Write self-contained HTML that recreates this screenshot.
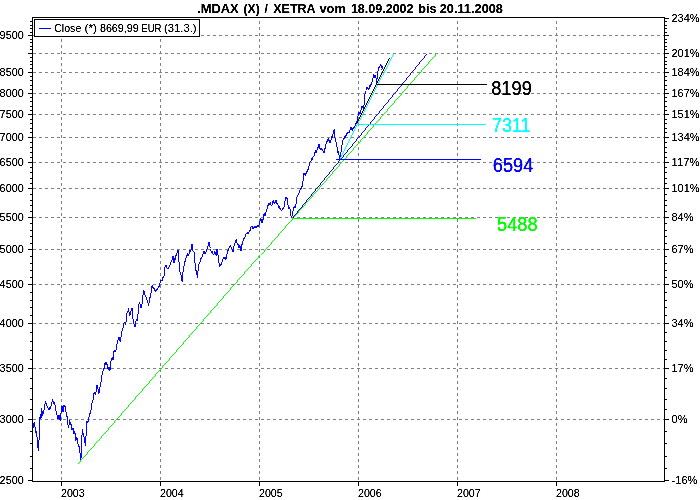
<!DOCTYPE html>
<html><head><meta charset="utf-8"><title>.MDAX (X) / XETRA</title>
<style>
html,body{margin:0;padding:0;background:#ffffff;}
body{width:700px;height:500px;overflow:hidden;position:relative;font-family:"Liberation Sans",sans-serif;}
</style></head><body>
<svg width="700" height="500" viewBox="0 0 700 500" style="position:absolute;left:0;top:0;opacity:0.999;will-change:transform">
<defs><filter id="crisp" x="0" y="0" width="100%" height="100%" filterUnits="userSpaceOnUse" primitiveUnits="userSpaceOnUse" color-interpolation-filters="sRGB"><feComponentTransfer><feFuncA type="table" tableValues="0 0.12 0.8 1 1"/></feComponentTransfer></filter></defs>
<rect x="0" y="0" width="700" height="500" fill="#ffffff"/>
<g stroke="#808080" stroke-width="1" stroke-dasharray="3 3" shape-rendering="crispEdges" fill="none">
<line x1="33" y1="35.5" x2="664" y2="35.5"/>
<line x1="33" y1="53.5" x2="664" y2="53.5"/>
<line x1="33" y1="72.5" x2="664" y2="72.5"/>
<line x1="33" y1="93.5" x2="664" y2="93.5"/>
<line x1="33" y1="114.5" x2="664" y2="114.5"/>
<line x1="33" y1="137.5" x2="664" y2="137.5"/>
<line x1="33" y1="162.5" x2="664" y2="162.5"/>
<line x1="33" y1="188.5" x2="664" y2="188.5"/>
<line x1="33" y1="217.5" x2="664" y2="217.5"/>
<line x1="33" y1="249.5" x2="664" y2="249.5"/>
<line x1="33" y1="284.5" x2="664" y2="284.5"/>
<line x1="33" y1="323.5" x2="664" y2="323.5"/>
<line x1="33" y1="368.5" x2="664" y2="368.5"/>
<line x1="33" y1="419.5" x2="664" y2="419.5"/>
<line x1="61.5" y1="18" x2="61.5" y2="481" stroke-dashoffset="3"/>
<line x1="160.5" y1="18" x2="160.5" y2="481" stroke-dashoffset="3"/>
<line x1="259.5" y1="18" x2="259.5" y2="481" stroke-dashoffset="3"/>
<line x1="358.5" y1="18" x2="358.5" y2="481" stroke-dashoffset="3"/>
<line x1="457.5" y1="18" x2="457.5" y2="481" stroke-dashoffset="3"/>
<line x1="556.5" y1="18" x2="556.5" y2="481" stroke-dashoffset="3"/>
</g>
<g stroke="#0000ff" stroke-width="0.99" shape-rendering="crispEdges" fill="none">
<line x1="32.4" y1="417.2" x2="32.7" y2="421.3"/>
<line x1="32.7" y1="421.3" x2="33.0" y2="423.5"/>
<line x1="33.0" y1="423.5" x2="33.2" y2="423.6"/>
<line x1="33.2" y1="423.6" x2="33.5" y2="427.6"/>
<line x1="33.5" y1="427.6" x2="33.8" y2="425.4"/>
<line x1="33.8" y1="425.4" x2="34.0" y2="423.3"/>
<line x1="34.0" y1="423.3" x2="34.2" y2="423.1"/>
<line x1="34.2" y1="423.1" x2="34.5" y2="422.0"/>
<line x1="34.5" y1="422.0" x2="34.8" y2="425.6"/>
<line x1="34.8" y1="425.6" x2="35.0" y2="427.2"/>
<line x1="35.0" y1="427.2" x2="35.3" y2="430.8"/>
<line x1="35.3" y1="430.8" x2="35.6" y2="433.2"/>
<line x1="35.6" y1="433.2" x2="35.9" y2="431.1"/>
<line x1="35.9" y1="431.1" x2="36.1" y2="431.1"/>
<line x1="36.1" y1="431.1" x2="36.4" y2="431.6"/>
<line x1="36.4" y1="431.6" x2="36.7" y2="434.1"/>
<line x1="36.7" y1="434.1" x2="36.9" y2="435.5"/>
<line x1="36.9" y1="435.5" x2="37.2" y2="438.0"/>
<line x1="37.2" y1="438.0" x2="37.5" y2="440.4"/>
<line x1="37.5" y1="440.4" x2="37.8" y2="443.2"/>
<line x1="37.8" y1="443.2" x2="38.0" y2="448.4"/>
<line x1="38.0" y1="448.4" x2="38.3" y2="450.5"/>
<line x1="38.3" y1="450.5" x2="38.6" y2="446.4"/>
<line x1="38.6" y1="446.4" x2="38.8" y2="442.4"/>
<line x1="38.8" y1="442.4" x2="39.1" y2="439.6"/>
<line x1="39.1" y1="439.6" x2="39.6" y2="422.0"/>
<line x1="39.6" y1="422.0" x2="39.9" y2="418.3"/>
<line x1="39.9" y1="418.3" x2="40.1" y2="415.7"/>
<line x1="40.1" y1="415.7" x2="40.4" y2="414.0"/>
<line x1="40.4" y1="414.0" x2="40.9" y2="418.8"/>
<line x1="40.9" y1="418.8" x2="41.1" y2="416.6"/>
<line x1="41.1" y1="416.6" x2="41.3" y2="412.9"/>
<line x1="41.3" y1="412.9" x2="41.5" y2="408.4"/>
<line x1="41.5" y1="408.4" x2="41.7" y2="411.6"/>
<line x1="41.7" y1="411.6" x2="42.0" y2="411.9"/>
<line x1="42.0" y1="411.9" x2="42.2" y2="415.6"/>
<line x1="42.2" y1="415.6" x2="42.4" y2="413.6"/>
<line x1="42.4" y1="413.6" x2="42.6" y2="413.4"/>
<line x1="42.6" y1="413.4" x2="42.8" y2="410.8"/>
<line x1="42.8" y1="410.8" x2="43.1" y2="412.8"/>
<line x1="43.1" y1="412.8" x2="43.3" y2="413.5"/>
<line x1="43.3" y1="413.5" x2="43.6" y2="413.2"/>
<line x1="43.6" y1="413.2" x2="43.9" y2="410.3"/>
<line x1="43.9" y1="410.3" x2="44.1" y2="408.9"/>
<line x1="44.1" y1="408.9" x2="44.4" y2="406.0"/>
<line x1="44.4" y1="406.0" x2="44.7" y2="405.3"/>
<line x1="44.7" y1="405.3" x2="45.0" y2="404.4"/>
<line x1="45.0" y1="404.4" x2="45.2" y2="401.1"/>
<line x1="45.2" y1="401.1" x2="45.5" y2="401.2"/>
<line x1="45.5" y1="401.2" x2="45.8" y2="402.7"/>
<line x1="45.8" y1="402.7" x2="46.0" y2="403.9"/>
<line x1="46.0" y1="403.9" x2="46.3" y2="404.0"/>
<line x1="46.3" y1="404.0" x2="46.5" y2="402.9"/>
<line x1="46.5" y1="402.9" x2="46.8" y2="405.2"/>
<line x1="46.8" y1="405.2" x2="47.1" y2="406.9"/>
<line x1="47.1" y1="406.9" x2="47.3" y2="405.8"/>
<line x1="47.3" y1="405.8" x2="47.6" y2="407.8"/>
<line x1="47.6" y1="407.8" x2="47.8" y2="407.8"/>
<line x1="47.8" y1="407.8" x2="48.1" y2="407.6"/>
<line x1="48.1" y1="407.6" x2="48.4" y2="409.5"/>
<line x1="48.4" y1="409.5" x2="48.7" y2="408.9"/>
<line x1="48.7" y1="408.9" x2="48.9" y2="409.8"/>
<line x1="48.9" y1="409.8" x2="49.2" y2="408.6"/>
<line x1="49.2" y1="408.6" x2="49.5" y2="410.0"/>
<line x1="49.5" y1="410.0" x2="49.8" y2="408.0"/>
<line x1="49.8" y1="408.0" x2="50.0" y2="407.4"/>
<line x1="50.0" y1="407.4" x2="50.3" y2="408.8"/>
<line x1="50.3" y1="408.8" x2="50.6" y2="407.7"/>
<line x1="50.6" y1="407.7" x2="50.8" y2="407.5"/>
<line x1="50.8" y1="407.5" x2="51.1" y2="406.0"/>
<line x1="51.1" y1="406.0" x2="51.4" y2="406.1"/>
<line x1="51.4" y1="406.1" x2="51.6" y2="404.7"/>
<line x1="51.6" y1="404.7" x2="51.9" y2="403.2"/>
<line x1="51.9" y1="403.2" x2="52.1" y2="401.8"/>
<line x1="52.1" y1="401.8" x2="52.4" y2="399.3"/>
<line x1="52.4" y1="399.3" x2="52.7" y2="401.9"/>
<line x1="52.7" y1="401.9" x2="52.9" y2="400.9"/>
<line x1="52.9" y1="400.9" x2="53.2" y2="401.8"/>
<line x1="53.2" y1="401.8" x2="53.4" y2="403.1"/>
<line x1="53.4" y1="403.1" x2="53.7" y2="404.4"/>
<line x1="53.7" y1="404.4" x2="54.0" y2="403.2"/>
<line x1="54.0" y1="403.2" x2="54.2" y2="402.7"/>
<line x1="54.2" y1="402.7" x2="54.5" y2="403.7"/>
<line x1="54.5" y1="403.7" x2="54.8" y2="402.0"/>
<line x1="54.8" y1="402.0" x2="55.1" y2="405.7"/>
<line x1="55.1" y1="405.7" x2="55.3" y2="405.4"/>
<line x1="55.3" y1="405.4" x2="55.6" y2="408.4"/>
<line x1="55.6" y1="408.4" x2="55.9" y2="410.3"/>
<line x1="55.9" y1="410.3" x2="56.1" y2="411.1"/>
<line x1="56.1" y1="411.1" x2="56.4" y2="412.1"/>
<line x1="56.4" y1="412.1" x2="56.6" y2="411.3"/>
<line x1="56.6" y1="411.3" x2="56.9" y2="414.0"/>
<line x1="56.9" y1="414.0" x2="57.2" y2="415.7"/>
<line x1="57.2" y1="415.7" x2="57.5" y2="417.5"/>
<line x1="57.5" y1="417.5" x2="57.7" y2="417.3"/>
<line x1="57.7" y1="417.3" x2="58.0" y2="418.8"/>
<line x1="58.0" y1="418.8" x2="58.3" y2="416.7"/>
<line x1="58.3" y1="416.7" x2="58.5" y2="417.8"/>
<line x1="58.5" y1="417.8" x2="58.8" y2="415.6"/>
<line x1="58.8" y1="415.6" x2="59.1" y2="415.1"/>
<line x1="59.1" y1="415.1" x2="59.3" y2="418.0"/>
<line x1="59.3" y1="418.0" x2="59.6" y2="419.9"/>
<line x1="59.6" y1="419.9" x2="59.9" y2="420.2"/>
<line x1="59.9" y1="420.2" x2="60.1" y2="418.9"/>
<line x1="60.1" y1="418.9" x2="60.4" y2="421.2"/>
<line x1="60.4" y1="421.2" x2="60.7" y2="418.7"/>
<line x1="60.7" y1="418.7" x2="60.9" y2="414.7"/>
<line x1="60.9" y1="414.7" x2="61.2" y2="410.8"/>
<line x1="61.2" y1="410.8" x2="61.5" y2="407.8"/>
<line x1="61.5" y1="407.8" x2="61.7" y2="408.3"/>
<line x1="61.7" y1="408.3" x2="62.0" y2="405.7"/>
<line x1="62.0" y1="405.7" x2="62.3" y2="406.4"/>
<line x1="62.3" y1="406.4" x2="62.5" y2="407.5"/>
<line x1="62.5" y1="407.5" x2="62.8" y2="411.2"/>
<line x1="62.8" y1="411.2" x2="63.1" y2="412.4"/>
<line x1="63.1" y1="412.4" x2="63.4" y2="409.3"/>
<line x1="63.4" y1="409.3" x2="63.6" y2="410.4"/>
<line x1="63.6" y1="410.4" x2="63.8" y2="405.8"/>
<line x1="63.8" y1="405.8" x2="64.1" y2="405.2"/>
<line x1="64.1" y1="405.2" x2="64.4" y2="406.6"/>
<line x1="64.4" y1="406.6" x2="64.7" y2="405.2"/>
<line x1="64.7" y1="405.2" x2="64.9" y2="405.4"/>
<line x1="64.9" y1="405.4" x2="65.2" y2="406.8"/>
<line x1="65.2" y1="406.8" x2="65.5" y2="409.4"/>
<line x1="65.5" y1="409.4" x2="65.7" y2="408.3"/>
<line x1="65.7" y1="408.3" x2="66.0" y2="412.4"/>
<line x1="66.0" y1="412.4" x2="66.2" y2="412.0"/>
<line x1="66.2" y1="412.0" x2="66.5" y2="414.0"/>
<line x1="66.5" y1="414.0" x2="66.8" y2="416.8"/>
<line x1="66.8" y1="416.8" x2="67.0" y2="416.4"/>
<line x1="67.0" y1="416.4" x2="67.3" y2="420.9"/>
<line x1="67.3" y1="420.9" x2="67.6" y2="422.0"/>
<line x1="67.6" y1="422.0" x2="67.9" y2="422.9"/>
<line x1="67.9" y1="422.9" x2="68.1" y2="427.1"/>
<line x1="68.1" y1="427.1" x2="68.4" y2="428.4"/>
<line x1="68.4" y1="428.4" x2="68.7" y2="427.9"/>
<line x1="68.7" y1="427.9" x2="69.0" y2="424.8"/>
<line x1="69.0" y1="424.8" x2="69.2" y2="421.8"/>
<line x1="69.2" y1="421.8" x2="69.5" y2="420.4"/>
<line x1="69.5" y1="420.4" x2="69.8" y2="420.5"/>
<line x1="69.8" y1="420.5" x2="70.0" y2="423.1"/>
<line x1="70.0" y1="423.1" x2="70.3" y2="421.9"/>
<line x1="70.3" y1="421.9" x2="70.5" y2="424.9"/>
<line x1="70.5" y1="424.9" x2="70.8" y2="424.4"/>
<line x1="70.8" y1="424.4" x2="71.1" y2="424.4"/>
<line x1="71.1" y1="424.4" x2="71.3" y2="425.7"/>
<line x1="71.3" y1="425.7" x2="71.6" y2="427.7"/>
<line x1="71.6" y1="427.7" x2="71.9" y2="430.0"/>
<line x1="71.9" y1="430.0" x2="72.2" y2="428.5"/>
<line x1="72.2" y1="428.5" x2="72.4" y2="429.2"/>
<line x1="72.4" y1="429.2" x2="72.7" y2="429.1"/>
<line x1="72.7" y1="429.1" x2="72.9" y2="427.6"/>
<line x1="72.9" y1="427.6" x2="73.2" y2="428.0"/>
<line x1="73.2" y1="428.0" x2="73.5" y2="429.2"/>
<line x1="73.5" y1="429.2" x2="73.7" y2="431.9"/>
<line x1="73.7" y1="431.9" x2="74.0" y2="434.0"/>
<line x1="74.0" y1="434.0" x2="74.3" y2="434.3"/>
<line x1="74.3" y1="434.3" x2="74.5" y2="430.8"/>
<line x1="74.5" y1="430.8" x2="74.8" y2="430.8"/>
<line x1="74.8" y1="430.8" x2="75.1" y2="434.6"/>
<line x1="75.1" y1="434.6" x2="75.3" y2="436.5"/>
<line x1="75.3" y1="436.5" x2="75.6" y2="438.3"/>
<line x1="75.6" y1="438.3" x2="75.9" y2="441.2"/>
<line x1="75.9" y1="441.2" x2="76.2" y2="439.2"/>
<line x1="76.2" y1="439.2" x2="76.4" y2="438.3"/>
<line x1="76.4" y1="438.3" x2="76.7" y2="436.8"/>
<line x1="76.7" y1="436.8" x2="76.9" y2="437.2"/>
<line x1="76.9" y1="437.2" x2="77.2" y2="438.7"/>
<line x1="77.2" y1="438.7" x2="77.5" y2="440.1"/>
<line x1="77.5" y1="440.1" x2="77.7" y2="441.3"/>
<line x1="77.7" y1="441.3" x2="78.0" y2="444.4"/>
<line x1="78.0" y1="444.4" x2="78.3" y2="445.6"/>
<line x1="78.3" y1="445.6" x2="78.5" y2="447.0"/>
<line x1="78.5" y1="447.0" x2="78.8" y2="444.7"/>
<line x1="78.8" y1="444.7" x2="79.1" y2="446.8"/>
<line x1="79.1" y1="446.8" x2="79.3" y2="450.1"/>
<line x1="79.3" y1="450.1" x2="79.6" y2="451.8"/>
<line x1="79.6" y1="451.8" x2="79.8" y2="451.2"/>
<line x1="79.8" y1="451.2" x2="80.1" y2="454.0"/>
<line x1="80.1" y1="454.0" x2="80.4" y2="455.2"/>
<line x1="80.4" y1="455.2" x2="80.6" y2="458.2"/>
<line x1="80.6" y1="458.2" x2="80.9" y2="462.0"/>
<line x1="80.9" y1="462.0" x2="81.1" y2="453.5"/>
<line x1="81.1" y1="453.5" x2="81.3" y2="447.1"/>
<line x1="81.3" y1="447.1" x2="81.5" y2="438.0"/>
<line x1="81.5" y1="438.0" x2="81.8" y2="434.8"/>
<line x1="81.8" y1="434.8" x2="82.0" y2="434.8"/>
<line x1="82.0" y1="434.8" x2="82.2" y2="432.7"/>
<line x1="82.2" y1="432.7" x2="82.5" y2="429.2"/>
<line x1="82.5" y1="429.2" x2="82.8" y2="429.8"/>
<line x1="82.8" y1="429.8" x2="83.0" y2="432.6"/>
<line x1="83.0" y1="432.6" x2="83.3" y2="435.6"/>
<line x1="83.3" y1="435.6" x2="83.6" y2="437.2"/>
<line x1="83.6" y1="437.2" x2="83.9" y2="437.0"/>
<line x1="83.9" y1="437.0" x2="84.1" y2="437.5"/>
<line x1="84.1" y1="437.5" x2="84.4" y2="439.6"/>
<line x1="84.4" y1="439.6" x2="84.7" y2="440.4"/>
<line x1="84.7" y1="440.4" x2="84.9" y2="441.7"/>
<line x1="84.9" y1="441.7" x2="85.2" y2="445.6"/>
<line x1="85.2" y1="445.6" x2="85.4" y2="446.3"/>
<line x1="85.4" y1="446.3" x2="85.6" y2="444.0"/>
<line x1="85.6" y1="444.0" x2="85.8" y2="438.5"/>
<line x1="85.8" y1="438.5" x2="86.0" y2="436.4"/>
<line x1="86.0" y1="436.4" x2="86.3" y2="432.8"/>
<line x1="86.3" y1="432.8" x2="86.5" y2="424.9"/>
<line x1="86.5" y1="424.9" x2="86.8" y2="421.2"/>
<line x1="86.8" y1="421.2" x2="87.1" y2="420.6"/>
<line x1="87.1" y1="420.6" x2="87.3" y2="422.5"/>
<line x1="87.3" y1="422.5" x2="87.6" y2="420.6"/>
<line x1="87.6" y1="420.6" x2="87.9" y2="422.0"/>
<line x1="87.9" y1="422.0" x2="88.2" y2="421.2"/>
<line x1="88.2" y1="421.2" x2="88.4" y2="420.9"/>
<line x1="88.4" y1="420.9" x2="88.7" y2="416.9"/>
<line x1="88.7" y1="416.9" x2="88.9" y2="417.2"/>
<line x1="88.9" y1="417.2" x2="89.2" y2="416.9"/>
<line x1="89.2" y1="416.9" x2="89.4" y2="414.0"/>
<line x1="89.4" y1="414.0" x2="89.7" y2="413.5"/>
<line x1="89.7" y1="413.5" x2="90.0" y2="413.2"/>
<line x1="90.0" y1="413.2" x2="90.2" y2="413.7"/>
<line x1="90.2" y1="413.7" x2="90.5" y2="412.4"/>
<line x1="90.5" y1="412.4" x2="90.8" y2="410.1"/>
<line x1="90.8" y1="410.1" x2="91.0" y2="410.4"/>
<line x1="91.0" y1="410.4" x2="91.3" y2="407.7"/>
<line x1="91.3" y1="407.7" x2="91.6" y2="405.2"/>
<line x1="91.6" y1="405.2" x2="91.9" y2="403.4"/>
<line x1="91.9" y1="403.4" x2="92.2" y2="402.0"/>
<line x1="92.2" y1="402.0" x2="92.4" y2="401.5"/>
<line x1="92.4" y1="401.5" x2="92.7" y2="401.2"/>
<line x1="92.7" y1="401.2" x2="93.0" y2="400.4"/>
<line x1="93.0" y1="400.4" x2="93.2" y2="397.0"/>
<line x1="93.2" y1="397.0" x2="93.5" y2="397.1"/>
<line x1="93.5" y1="397.1" x2="93.7" y2="394.0"/>
<line x1="93.7" y1="394.0" x2="94.0" y2="392.8"/>
<line x1="94.0" y1="392.8" x2="94.3" y2="391.6"/>
<line x1="94.3" y1="391.6" x2="94.6" y2="393.1"/>
<line x1="94.6" y1="393.1" x2="94.8" y2="394.2"/>
<line x1="94.8" y1="394.2" x2="95.1" y2="393.6"/>
<line x1="95.1" y1="393.6" x2="95.4" y2="394.6"/>
<line x1="95.4" y1="394.6" x2="95.7" y2="391.6"/>
<line x1="95.7" y1="391.6" x2="96.0" y2="392.1"/>
<line x1="96.0" y1="392.1" x2="96.3" y2="390.9"/>
<line x1="96.3" y1="390.9" x2="96.6" y2="387.3"/>
<line x1="96.6" y1="387.3" x2="96.9" y2="385.5"/>
<line x1="96.9" y1="385.5" x2="97.2" y2="384.7"/>
<line x1="97.2" y1="384.7" x2="97.4" y2="385.2"/>
<line x1="97.4" y1="385.2" x2="97.7" y2="385.8"/>
<line x1="97.7" y1="385.8" x2="97.9" y2="388.5"/>
<line x1="97.9" y1="388.5" x2="98.1" y2="389.2"/>
<line x1="98.1" y1="389.2" x2="98.3" y2="389.7"/>
<line x1="98.3" y1="389.7" x2="98.5" y2="390.1"/>
<line x1="98.5" y1="390.1" x2="98.8" y2="393.5"/>
<line x1="98.8" y1="393.5" x2="99.0" y2="392.8"/>
<line x1="99.0" y1="392.8" x2="99.3" y2="392.9"/>
<line x1="99.3" y1="392.9" x2="99.5" y2="391.0"/>
<line x1="99.5" y1="391.0" x2="99.8" y2="387.5"/>
<line x1="99.8" y1="387.5" x2="100.0" y2="385.5"/>
<line x1="100.0" y1="385.5" x2="100.3" y2="385.6"/>
<line x1="100.3" y1="385.6" x2="100.6" y2="383.3"/>
<line x1="100.6" y1="383.3" x2="100.8" y2="381.8"/>
<line x1="100.8" y1="381.8" x2="101.1" y2="381.9"/>
<line x1="101.1" y1="381.9" x2="101.3" y2="378.4"/>
<line x1="101.3" y1="378.4" x2="101.6" y2="377.5"/>
<line x1="101.6" y1="377.5" x2="101.9" y2="375.6"/>
<line x1="101.9" y1="375.6" x2="102.2" y2="373.4"/>
<line x1="102.2" y1="373.4" x2="102.4" y2="373.4"/>
<line x1="102.4" y1="373.4" x2="102.7" y2="371.5"/>
<line x1="102.7" y1="371.5" x2="103.0" y2="371.2"/>
<line x1="103.0" y1="371.2" x2="103.3" y2="368.6"/>
<line x1="103.3" y1="368.6" x2="103.6" y2="367.9"/>
<line x1="103.6" y1="367.9" x2="103.8" y2="369.1"/>
<line x1="103.8" y1="369.1" x2="104.1" y2="368.4"/>
<line x1="104.1" y1="368.4" x2="104.4" y2="365.8"/>
<line x1="104.4" y1="365.8" x2="104.7" y2="366.3"/>
<line x1="104.7" y1="366.3" x2="104.9" y2="363.6"/>
<line x1="104.9" y1="363.6" x2="105.2" y2="362.8"/>
<line x1="105.2" y1="362.8" x2="105.4" y2="364.5"/>
<line x1="105.4" y1="364.5" x2="105.7" y2="362.2"/>
<line x1="105.7" y1="362.2" x2="106.0" y2="362.2"/>
<line x1="106.0" y1="362.2" x2="106.2" y2="363.8"/>
<line x1="106.2" y1="363.8" x2="106.5" y2="362.9"/>
<line x1="106.5" y1="362.9" x2="106.7" y2="365.1"/>
<line x1="106.7" y1="365.1" x2="107.0" y2="364.0"/>
<line x1="107.0" y1="364.0" x2="107.2" y2="366.4"/>
<line x1="107.2" y1="366.4" x2="107.5" y2="367.1"/>
<line x1="107.5" y1="367.1" x2="107.8" y2="367.5"/>
<line x1="107.8" y1="367.5" x2="108.0" y2="369.4"/>
<line x1="108.0" y1="369.4" x2="108.2" y2="369.0"/>
<line x1="108.2" y1="369.0" x2="108.5" y2="369.6"/>
<line x1="108.5" y1="369.6" x2="108.7" y2="368.0"/>
<line x1="108.7" y1="368.0" x2="108.9" y2="366.7"/>
<line x1="108.9" y1="366.7" x2="109.2" y2="368.0"/>
<line x1="109.2" y1="368.0" x2="109.4" y2="367.8"/>
<line x1="109.4" y1="367.8" x2="109.7" y2="369.3"/>
<line x1="109.7" y1="369.3" x2="109.9" y2="370.5"/>
<line x1="109.9" y1="370.5" x2="110.2" y2="370.3"/>
<line x1="110.2" y1="370.3" x2="110.4" y2="367.2"/>
<line x1="110.4" y1="367.2" x2="110.7" y2="364.9"/>
<line x1="110.7" y1="364.9" x2="110.9" y2="362.4"/>
<line x1="110.9" y1="362.4" x2="111.1" y2="360.4"/>
<line x1="111.1" y1="360.4" x2="111.4" y2="359.0"/>
<line x1="111.4" y1="359.0" x2="111.6" y2="360.0"/>
<line x1="111.6" y1="360.0" x2="111.9" y2="358.4"/>
<line x1="111.9" y1="358.4" x2="112.1" y2="357.1"/>
<line x1="112.1" y1="357.1" x2="112.4" y2="357.7"/>
<line x1="112.4" y1="357.7" x2="112.6" y2="359.7"/>
<line x1="112.6" y1="359.7" x2="112.8" y2="359.5"/>
<line x1="112.8" y1="359.5" x2="113.1" y2="359.4"/>
<line x1="113.1" y1="359.4" x2="113.3" y2="360.4"/>
<line x1="113.3" y1="360.4" x2="113.8" y2="350.5"/>
<line x1="113.8" y1="350.5" x2="114.1" y2="352.1"/>
<line x1="114.1" y1="352.1" x2="114.4" y2="349.7"/>
<line x1="114.4" y1="349.7" x2="114.6" y2="350.2"/>
<line x1="114.6" y1="350.2" x2="114.9" y2="351.5"/>
<line x1="114.9" y1="351.5" x2="115.2" y2="352.3"/>
<line x1="115.2" y1="352.3" x2="115.5" y2="350.7"/>
<line x1="115.5" y1="350.7" x2="115.7" y2="351.7"/>
<line x1="115.7" y1="351.7" x2="116.0" y2="350.4"/>
<line x1="116.0" y1="350.4" x2="116.2" y2="346.9"/>
<line x1="116.2" y1="346.9" x2="116.5" y2="346.9"/>
<line x1="116.5" y1="346.9" x2="116.8" y2="345.1"/>
<line x1="116.8" y1="345.1" x2="117.0" y2="344.2"/>
<line x1="117.0" y1="344.2" x2="117.3" y2="342.9"/>
<line x1="117.3" y1="342.9" x2="117.5" y2="342.1"/>
<line x1="117.5" y1="342.1" x2="117.8" y2="342.4"/>
<line x1="117.8" y1="342.4" x2="118.0" y2="339.8"/>
<line x1="118.0" y1="339.8" x2="118.3" y2="340.3"/>
<line x1="118.3" y1="340.3" x2="118.5" y2="337.0"/>
<line x1="118.5" y1="337.0" x2="118.8" y2="337.0"/>
<line x1="118.8" y1="337.0" x2="119.1" y2="336.7"/>
<line x1="119.1" y1="336.7" x2="119.3" y2="338.2"/>
<line x1="119.3" y1="338.2" x2="119.6" y2="340.6"/>
<line x1="119.6" y1="340.6" x2="119.8" y2="341.0"/>
<line x1="119.8" y1="341.0" x2="120.1" y2="341.5"/>
<line x1="120.1" y1="341.5" x2="120.3" y2="341.7"/>
<line x1="120.3" y1="341.7" x2="120.5" y2="338.8"/>
<line x1="120.5" y1="338.8" x2="120.8" y2="337.4"/>
<line x1="120.8" y1="337.4" x2="121.0" y2="337.0"/>
<line x1="121.0" y1="337.0" x2="121.3" y2="336.8"/>
<line x1="121.3" y1="336.8" x2="121.6" y2="334.2"/>
<line x1="121.6" y1="334.2" x2="121.8" y2="332.3"/>
<line x1="121.8" y1="332.3" x2="122.1" y2="330.8"/>
<line x1="122.1" y1="330.8" x2="122.4" y2="330.7"/>
<line x1="122.4" y1="330.7" x2="122.7" y2="328.2"/>
<line x1="122.7" y1="328.2" x2="123.0" y2="328.0"/>
<line x1="123.0" y1="328.0" x2="123.3" y2="327.3"/>
<line x1="123.3" y1="327.3" x2="123.6" y2="326.8"/>
<line x1="123.6" y1="326.8" x2="123.9" y2="323.9"/>
<line x1="123.9" y1="323.9" x2="124.2" y2="322.2"/>
<line x1="124.2" y1="322.2" x2="124.5" y2="322.8"/>
<line x1="124.5" y1="322.8" x2="124.8" y2="322.3"/>
<line x1="124.8" y1="322.3" x2="125.0" y2="321.8"/>
<line x1="125.0" y1="321.8" x2="125.3" y2="324.9"/>
<line x1="125.3" y1="324.9" x2="125.5" y2="324.1"/>
<line x1="125.5" y1="324.1" x2="125.8" y2="323.7"/>
<line x1="125.8" y1="323.7" x2="126.1" y2="321.0"/>
<line x1="126.1" y1="321.0" x2="126.4" y2="318.5"/>
<line x1="126.4" y1="318.5" x2="126.6" y2="318.2"/>
<line x1="126.6" y1="318.2" x2="126.9" y2="313.3"/>
<line x1="126.9" y1="313.3" x2="127.2" y2="312.0"/>
<line x1="127.2" y1="312.0" x2="127.5" y2="312.7"/>
<line x1="127.5" y1="312.7" x2="127.7" y2="311.2"/>
<line x1="127.7" y1="311.2" x2="128.0" y2="310.7"/>
<line x1="128.0" y1="310.7" x2="128.2" y2="308.8"/>
<line x1="128.2" y1="308.8" x2="128.5" y2="308.4"/>
<line x1="128.5" y1="308.4" x2="128.8" y2="311.0"/>
<line x1="128.8" y1="311.0" x2="129.1" y2="312.0"/>
<line x1="129.1" y1="312.0" x2="129.3" y2="311.9"/>
<line x1="129.3" y1="311.9" x2="129.6" y2="314.9"/>
<line x1="129.6" y1="314.9" x2="129.9" y2="315.6"/>
<line x1="129.9" y1="315.6" x2="130.1" y2="315.0"/>
<line x1="130.1" y1="315.0" x2="130.4" y2="315.2"/>
<line x1="130.4" y1="315.2" x2="130.6" y2="311.4"/>
<line x1="130.6" y1="311.4" x2="130.8" y2="312.0"/>
<line x1="130.8" y1="312.0" x2="131.1" y2="309.9"/>
<line x1="131.1" y1="309.9" x2="131.4" y2="310.8"/>
<line x1="131.4" y1="310.8" x2="131.6" y2="308.5"/>
<line x1="131.6" y1="308.5" x2="131.9" y2="307.6"/>
<line x1="131.9" y1="307.6" x2="132.2" y2="307.5"/>
<line x1="132.2" y1="307.5" x2="132.5" y2="312.7"/>
<line x1="132.5" y1="312.7" x2="132.7" y2="314.6"/>
<line x1="132.7" y1="314.6" x2="133.0" y2="319.2"/>
<line x1="133.0" y1="319.2" x2="133.3" y2="319.2"/>
<line x1="133.3" y1="319.2" x2="133.6" y2="323.0"/>
<line x1="133.6" y1="323.0" x2="133.9" y2="322.6"/>
<line x1="133.9" y1="322.6" x2="134.2" y2="325.5"/>
<line x1="134.2" y1="325.5" x2="134.5" y2="326.5"/>
<line x1="134.5" y1="326.5" x2="134.8" y2="327.3"/>
<line x1="134.8" y1="327.3" x2="135.1" y2="327.4"/>
<line x1="135.1" y1="327.4" x2="135.4" y2="326.2"/>
<line x1="135.4" y1="326.2" x2="135.6" y2="325.0"/>
<line x1="135.6" y1="325.0" x2="135.9" y2="321.0"/>
<line x1="135.9" y1="321.0" x2="136.2" y2="321.0"/>
<line x1="136.2" y1="321.0" x2="136.5" y2="319.1"/>
<line x1="136.5" y1="319.1" x2="136.7" y2="321.2"/>
<line x1="136.7" y1="321.2" x2="137.0" y2="318.8"/>
<line x1="137.0" y1="318.8" x2="137.2" y2="320.5"/>
<line x1="137.2" y1="320.5" x2="137.5" y2="319.2"/>
<line x1="137.5" y1="319.2" x2="137.8" y2="315.5"/>
<line x1="137.8" y1="315.5" x2="138.0" y2="313.6"/>
<line x1="138.0" y1="313.6" x2="138.2" y2="310.4"/>
<line x1="138.2" y1="310.4" x2="138.5" y2="306.6"/>
<line x1="138.5" y1="306.6" x2="138.8" y2="306.5"/>
<line x1="138.8" y1="306.5" x2="139.0" y2="304.1"/>
<line x1="139.0" y1="304.1" x2="139.3" y2="304.4"/>
<line x1="139.3" y1="304.4" x2="139.5" y2="302.6"/>
<line x1="139.5" y1="302.6" x2="139.8" y2="302.1"/>
<line x1="139.8" y1="302.1" x2="140.1" y2="304.4"/>
<line x1="140.1" y1="304.4" x2="140.4" y2="306.1"/>
<line x1="140.4" y1="306.1" x2="140.6" y2="306.7"/>
<line x1="140.6" y1="306.7" x2="140.9" y2="306.5"/>
<line x1="140.9" y1="306.5" x2="141.2" y2="308.4"/>
<line x1="141.2" y1="308.4" x2="141.5" y2="305.9"/>
<line x1="141.5" y1="305.9" x2="141.7" y2="304.1"/>
<line x1="141.7" y1="304.1" x2="142.0" y2="303.6"/>
<line x1="142.0" y1="303.6" x2="142.2" y2="299.7"/>
<line x1="142.2" y1="299.7" x2="142.5" y2="299.4"/>
<line x1="142.5" y1="299.4" x2="142.8" y2="298.2"/>
<line x1="142.8" y1="298.2" x2="143.0" y2="294.7"/>
<line x1="143.0" y1="294.7" x2="143.3" y2="294.7"/>
<line x1="143.3" y1="294.7" x2="143.5" y2="292.1"/>
<line x1="143.5" y1="292.1" x2="143.8" y2="289.5"/>
<line x1="143.8" y1="289.5" x2="144.1" y2="291.0"/>
<line x1="144.1" y1="291.0" x2="144.4" y2="291.2"/>
<line x1="144.4" y1="291.2" x2="144.6" y2="291.9"/>
<line x1="144.6" y1="291.9" x2="144.9" y2="294.7"/>
<line x1="144.9" y1="294.7" x2="145.2" y2="294.9"/>
<line x1="145.2" y1="294.9" x2="145.5" y2="296.7"/>
<line x1="145.5" y1="296.7" x2="145.8" y2="295.2"/>
<line x1="145.8" y1="295.2" x2="146.0" y2="297.2"/>
<line x1="146.0" y1="297.2" x2="146.3" y2="297.9"/>
<line x1="146.3" y1="297.9" x2="146.6" y2="296.7"/>
<line x1="146.6" y1="296.7" x2="146.9" y2="298.6"/>
<line x1="146.9" y1="298.6" x2="147.2" y2="301.4"/>
<line x1="147.2" y1="301.4" x2="147.5" y2="303.0"/>
<line x1="147.5" y1="303.0" x2="147.8" y2="301.7"/>
<line x1="147.8" y1="301.7" x2="148.1" y2="304.1"/>
<line x1="148.1" y1="304.1" x2="148.4" y2="306.2"/>
<line x1="148.4" y1="306.2" x2="148.7" y2="303.3"/>
<line x1="148.7" y1="303.3" x2="148.9" y2="303.9"/>
<line x1="148.9" y1="303.9" x2="149.2" y2="301.8"/>
<line x1="149.2" y1="301.8" x2="149.4" y2="300.2"/>
<line x1="149.4" y1="300.2" x2="149.7" y2="299.4"/>
<line x1="149.7" y1="299.4" x2="150.0" y2="297.0"/>
<line x1="150.0" y1="297.0" x2="150.2" y2="298.4"/>
<line x1="150.2" y1="298.4" x2="150.5" y2="296.6"/>
<line x1="150.5" y1="296.6" x2="150.7" y2="295.6"/>
<line x1="150.7" y1="295.6" x2="151.0" y2="293.1"/>
<line x1="151.0" y1="293.1" x2="151.3" y2="291.1"/>
<line x1="151.3" y1="291.1" x2="151.6" y2="290.8"/>
<line x1="151.6" y1="290.8" x2="151.8" y2="287.4"/>
<line x1="151.8" y1="287.4" x2="152.1" y2="285.3"/>
<line x1="152.1" y1="285.3" x2="152.4" y2="285.0"/>
<line x1="152.4" y1="285.0" x2="152.7" y2="285.4"/>
<line x1="152.7" y1="285.4" x2="153.0" y2="288.1"/>
<line x1="153.0" y1="288.1" x2="153.3" y2="288.8"/>
<line x1="153.3" y1="288.8" x2="153.6" y2="287.1"/>
<line x1="153.6" y1="287.1" x2="153.9" y2="287.7"/>
<line x1="153.9" y1="287.7" x2="154.2" y2="289.5"/>
<line x1="154.2" y1="289.5" x2="154.5" y2="288.3"/>
<line x1="154.5" y1="288.3" x2="154.8" y2="290.6"/>
<line x1="154.8" y1="290.6" x2="155.0" y2="289.6"/>
<line x1="155.0" y1="289.6" x2="155.3" y2="291.3"/>
<line x1="155.3" y1="291.3" x2="155.6" y2="291.3"/>
<line x1="155.6" y1="291.3" x2="155.9" y2="289.7"/>
<line x1="155.9" y1="289.7" x2="156.2" y2="291.0"/>
<line x1="156.2" y1="291.0" x2="156.4" y2="288.7"/>
<line x1="156.4" y1="288.7" x2="156.7" y2="290.3"/>
<line x1="156.7" y1="290.3" x2="157.0" y2="289.6"/>
<line x1="157.0" y1="289.6" x2="157.3" y2="288.6"/>
<line x1="157.3" y1="288.6" x2="157.6" y2="289.7"/>
<line x1="157.6" y1="289.7" x2="157.9" y2="287.7"/>
<line x1="157.9" y1="287.7" x2="158.1" y2="287.4"/>
<line x1="158.1" y1="287.4" x2="158.4" y2="287.3"/>
<line x1="158.4" y1="287.3" x2="158.7" y2="287.7"/>
<line x1="158.7" y1="287.7" x2="159.0" y2="286.2"/>
<line x1="159.0" y1="286.2" x2="159.3" y2="286.3"/>
<line x1="159.3" y1="286.3" x2="159.6" y2="286.1"/>
<line x1="159.6" y1="286.1" x2="159.9" y2="283.2"/>
<line x1="159.9" y1="283.2" x2="160.2" y2="281.7"/>
<line x1="160.2" y1="281.7" x2="160.5" y2="282.3"/>
<line x1="160.5" y1="282.3" x2="160.8" y2="280.2"/>
<line x1="160.8" y1="280.2" x2="161.1" y2="280.6"/>
<line x1="161.1" y1="280.6" x2="161.4" y2="279.8"/>
<line x1="161.4" y1="279.8" x2="161.7" y2="279.5"/>
<line x1="161.7" y1="279.5" x2="161.9" y2="281.0"/>
<line x1="161.9" y1="281.0" x2="162.2" y2="280.2"/>
<line x1="162.2" y1="280.2" x2="162.5" y2="276.9"/>
<line x1="162.5" y1="276.9" x2="162.8" y2="277.8"/>
<line x1="162.8" y1="277.8" x2="163.1" y2="277.8"/>
<line x1="163.1" y1="277.8" x2="163.3" y2="277.1"/>
<line x1="163.3" y1="277.1" x2="163.6" y2="277.6"/>
<line x1="163.6" y1="277.6" x2="163.8" y2="276.5"/>
<line x1="163.8" y1="276.5" x2="164.1" y2="275.1"/>
<line x1="164.1" y1="275.1" x2="164.3" y2="272.8"/>
<line x1="164.3" y1="272.8" x2="164.6" y2="271.5"/>
<line x1="164.6" y1="271.5" x2="164.8" y2="270.6"/>
<line x1="164.8" y1="270.6" x2="165.0" y2="267.0"/>
<line x1="165.0" y1="267.0" x2="165.3" y2="265.6"/>
<line x1="165.3" y1="265.6" x2="165.6" y2="265.5"/>
<line x1="165.6" y1="265.5" x2="165.8" y2="267.3"/>
<line x1="165.8" y1="267.3" x2="166.1" y2="266.0"/>
<line x1="166.1" y1="266.0" x2="166.4" y2="265.2"/>
<line x1="166.4" y1="265.2" x2="166.7" y2="266.5"/>
<line x1="166.7" y1="266.5" x2="166.9" y2="267.2"/>
<line x1="166.9" y1="267.2" x2="167.2" y2="268.6"/>
<line x1="167.2" y1="268.6" x2="167.4" y2="268.4"/>
<line x1="167.4" y1="268.4" x2="167.7" y2="268.8"/>
<line x1="167.7" y1="268.8" x2="168.0" y2="269.1"/>
<line x1="168.0" y1="269.1" x2="168.2" y2="268.4"/>
<line x1="168.2" y1="268.4" x2="168.5" y2="266.8"/>
<line x1="168.5" y1="266.8" x2="168.7" y2="266.7"/>
<line x1="168.7" y1="266.7" x2="169.0" y2="267.0"/>
<line x1="169.0" y1="267.0" x2="169.3" y2="265.0"/>
<line x1="169.3" y1="265.0" x2="169.6" y2="266.7"/>
<line x1="169.6" y1="266.7" x2="169.8" y2="266.9"/>
<line x1="169.8" y1="266.9" x2="170.1" y2="264.2"/>
<line x1="170.1" y1="264.2" x2="170.4" y2="264.3"/>
<line x1="170.4" y1="264.3" x2="170.7" y2="264.9"/>
<line x1="170.7" y1="264.9" x2="170.9" y2="262.8"/>
<line x1="170.9" y1="262.8" x2="171.2" y2="261.3"/>
<line x1="171.2" y1="261.3" x2="171.4" y2="260.3"/>
<line x1="171.4" y1="260.3" x2="171.7" y2="259.8"/>
<line x1="171.7" y1="259.8" x2="171.9" y2="260.4"/>
<line x1="171.9" y1="260.4" x2="172.2" y2="259.3"/>
<line x1="172.2" y1="259.3" x2="172.4" y2="258.5"/>
<line x1="172.4" y1="258.5" x2="172.7" y2="256.2"/>
<line x1="172.7" y1="256.2" x2="173.0" y2="256.0"/>
<line x1="173.0" y1="256.0" x2="173.2" y2="258.4"/>
<line x1="173.2" y1="258.4" x2="173.5" y2="261.3"/>
<line x1="173.5" y1="261.3" x2="173.7" y2="260.2"/>
<line x1="173.7" y1="260.2" x2="174.0" y2="262.5"/>
<line x1="174.0" y1="262.5" x2="174.3" y2="262.8"/>
<line x1="174.3" y1="262.8" x2="174.5" y2="261.1"/>
<line x1="174.5" y1="261.1" x2="174.8" y2="258.3"/>
<line x1="174.8" y1="258.3" x2="175.0" y2="259.5"/>
<line x1="175.0" y1="259.5" x2="175.3" y2="257.1"/>
<line x1="175.3" y1="257.1" x2="175.6" y2="255.7"/>
<line x1="175.6" y1="255.7" x2="175.9" y2="255.1"/>
<line x1="175.9" y1="255.1" x2="176.1" y2="256.0"/>
<line x1="176.1" y1="256.0" x2="176.4" y2="256.4"/>
<line x1="176.4" y1="256.4" x2="176.7" y2="254.4"/>
<line x1="176.7" y1="254.4" x2="177.0" y2="252.9"/>
<line x1="177.0" y1="252.9" x2="177.3" y2="252.0"/>
<line x1="177.3" y1="252.0" x2="177.5" y2="252.6"/>
<line x1="177.5" y1="252.6" x2="177.8" y2="251.3"/>
<line x1="177.8" y1="251.3" x2="178.1" y2="249.9"/>
<line x1="178.1" y1="249.9" x2="178.3" y2="252.0"/>
<line x1="178.3" y1="252.0" x2="178.6" y2="254.5"/>
<line x1="178.6" y1="254.5" x2="178.8" y2="257.4"/>
<line x1="178.8" y1="257.4" x2="179.0" y2="261.6"/>
<line x1="179.0" y1="261.6" x2="179.2" y2="265.0"/>
<line x1="179.2" y1="265.0" x2="179.4" y2="267.8"/>
<line x1="179.4" y1="267.8" x2="179.7" y2="270.3"/>
<line x1="179.7" y1="270.3" x2="179.9" y2="272.4"/>
<line x1="179.9" y1="272.4" x2="180.2" y2="272.4"/>
<line x1="180.2" y1="272.4" x2="180.4" y2="273.0"/>
<line x1="180.4" y1="273.0" x2="180.7" y2="273.3"/>
<line x1="180.7" y1="273.3" x2="180.9" y2="275.2"/>
<line x1="180.9" y1="275.2" x2="181.2" y2="275.1"/>
<line x1="181.2" y1="275.1" x2="181.4" y2="275.9"/>
<line x1="181.4" y1="275.9" x2="181.6" y2="277.6"/>
<line x1="181.6" y1="277.6" x2="181.9" y2="279.4"/>
<line x1="181.9" y1="279.4" x2="182.1" y2="282.3"/>
<line x1="182.1" y1="282.3" x2="182.3" y2="279.4"/>
<line x1="182.3" y1="279.4" x2="182.6" y2="278.8"/>
<line x1="182.6" y1="278.8" x2="182.8" y2="273.5"/>
<line x1="182.8" y1="273.5" x2="183.0" y2="272.4"/>
<line x1="183.0" y1="272.4" x2="183.3" y2="271.3"/>
<line x1="183.3" y1="271.3" x2="183.6" y2="270.1"/>
<line x1="183.6" y1="270.1" x2="183.8" y2="267.5"/>
<line x1="183.8" y1="267.5" x2="184.1" y2="265.1"/>
<line x1="184.1" y1="265.1" x2="184.4" y2="265.2"/>
<line x1="184.4" y1="265.2" x2="184.7" y2="264.7"/>
<line x1="184.7" y1="264.7" x2="184.9" y2="261.4"/>
<line x1="184.9" y1="261.4" x2="185.2" y2="262.2"/>
<line x1="185.2" y1="262.2" x2="185.4" y2="259.0"/>
<line x1="185.4" y1="259.0" x2="185.7" y2="258.0"/>
<line x1="185.7" y1="258.0" x2="186.0" y2="257.7"/>
<line x1="186.0" y1="257.7" x2="186.2" y2="256.9"/>
<line x1="186.2" y1="256.9" x2="186.5" y2="254.7"/>
<line x1="186.5" y1="254.7" x2="186.7" y2="254.7"/>
<line x1="186.7" y1="254.7" x2="187.0" y2="253.5"/>
<line x1="187.0" y1="253.5" x2="187.3" y2="252.7"/>
<line x1="187.3" y1="252.7" x2="187.6" y2="255.4"/>
<line x1="187.6" y1="255.4" x2="187.8" y2="255.7"/>
<line x1="187.8" y1="255.7" x2="188.1" y2="256.1"/>
<line x1="188.1" y1="256.1" x2="188.4" y2="256.2"/>
<line x1="188.4" y1="256.2" x2="188.7" y2="254.0"/>
<line x1="188.7" y1="254.0" x2="188.9" y2="254.8"/>
<line x1="188.9" y1="254.8" x2="189.2" y2="252.2"/>
<line x1="189.2" y1="252.2" x2="189.4" y2="251.5"/>
<line x1="189.4" y1="251.5" x2="189.7" y2="251.7"/>
<line x1="189.7" y1="251.7" x2="189.9" y2="250.1"/>
<line x1="189.9" y1="250.1" x2="190.2" y2="252.0"/>
<line x1="190.2" y1="252.0" x2="190.4" y2="251.9"/>
<line x1="190.4" y1="251.9" x2="190.7" y2="249.9"/>
<line x1="190.7" y1="249.9" x2="191.0" y2="249.7"/>
<line x1="191.0" y1="249.7" x2="191.2" y2="247.0"/>
<line x1="191.2" y1="247.0" x2="191.5" y2="247.5"/>
<line x1="191.5" y1="247.5" x2="191.7" y2="244.2"/>
<line x1="191.7" y1="244.2" x2="192.0" y2="244.5"/>
<line x1="192.0" y1="244.5" x2="192.3" y2="246.9"/>
<line x1="192.3" y1="246.9" x2="192.5" y2="248.3"/>
<line x1="192.5" y1="248.3" x2="192.8" y2="246.8"/>
<line x1="192.8" y1="246.8" x2="193.0" y2="251.0"/>
<line x1="193.0" y1="251.0" x2="193.3" y2="250.8"/>
<line x1="193.3" y1="250.8" x2="193.6" y2="251.7"/>
<line x1="193.6" y1="251.7" x2="193.8" y2="250.9"/>
<line x1="193.8" y1="250.9" x2="194.1" y2="253.0"/>
<line x1="194.1" y1="253.0" x2="194.3" y2="252.6"/>
<line x1="194.3" y1="252.6" x2="194.5" y2="255.3"/>
<line x1="194.5" y1="255.3" x2="194.8" y2="257.9"/>
<line x1="194.8" y1="257.9" x2="195.0" y2="262.5"/>
<line x1="195.0" y1="262.5" x2="195.2" y2="265.2"/>
<line x1="195.2" y1="265.2" x2="195.5" y2="268.1"/>
<line x1="195.5" y1="268.1" x2="195.7" y2="268.0"/>
<line x1="195.7" y1="268.0" x2="196.0" y2="270.6"/>
<line x1="196.0" y1="270.6" x2="196.2" y2="270.2"/>
<line x1="196.2" y1="270.2" x2="196.5" y2="273.3"/>
<line x1="196.5" y1="273.3" x2="196.7" y2="273.6"/>
<line x1="196.7" y1="273.6" x2="196.9" y2="274.9"/>
<line x1="196.9" y1="274.9" x2="197.2" y2="275.1"/>
<line x1="197.2" y1="275.1" x2="197.4" y2="277.8"/>
<line x1="197.4" y1="277.8" x2="197.6" y2="275.8"/>
<line x1="197.6" y1="275.8" x2="197.9" y2="272.8"/>
<line x1="197.9" y1="272.8" x2="198.1" y2="268.6"/>
<line x1="198.1" y1="268.6" x2="198.3" y2="267.0"/>
<line x1="198.3" y1="267.0" x2="198.6" y2="265.0"/>
<line x1="198.6" y1="265.0" x2="198.9" y2="263.8"/>
<line x1="198.9" y1="263.8" x2="199.2" y2="263.3"/>
<line x1="199.2" y1="263.3" x2="199.5" y2="262.6"/>
<line x1="199.5" y1="262.6" x2="199.8" y2="261.7"/>
<line x1="199.8" y1="261.7" x2="200.1" y2="261.6"/>
<line x1="200.1" y1="261.6" x2="200.4" y2="260.4"/>
<line x1="200.4" y1="260.4" x2="200.6" y2="259.8"/>
<line x1="200.6" y1="259.8" x2="200.9" y2="258.3"/>
<line x1="200.9" y1="258.3" x2="201.1" y2="259.2"/>
<line x1="201.1" y1="259.2" x2="201.4" y2="258.0"/>
<line x1="201.4" y1="258.0" x2="201.7" y2="258.1"/>
<line x1="201.7" y1="258.1" x2="202.0" y2="257.3"/>
<line x1="202.0" y1="257.3" x2="202.2" y2="256.4"/>
<line x1="202.2" y1="256.4" x2="202.5" y2="255.2"/>
<line x1="202.5" y1="255.2" x2="202.8" y2="253.5"/>
<line x1="202.8" y1="253.5" x2="203.1" y2="253.8"/>
<line x1="203.1" y1="253.8" x2="203.4" y2="253.0"/>
<line x1="203.4" y1="253.0" x2="203.6" y2="250.8"/>
<line x1="203.6" y1="250.8" x2="203.9" y2="252.2"/>
<line x1="203.9" y1="252.2" x2="204.2" y2="250.8"/>
<line x1="204.2" y1="250.8" x2="204.5" y2="253.1"/>
<line x1="204.5" y1="253.1" x2="204.7" y2="254.3"/>
<line x1="204.7" y1="254.3" x2="205.0" y2="253.9"/>
<line x1="205.0" y1="253.9" x2="205.3" y2="254.0"/>
<line x1="205.3" y1="254.0" x2="205.6" y2="251.9"/>
<line x1="205.6" y1="251.9" x2="205.9" y2="252.4"/>
<line x1="205.9" y1="252.4" x2="206.2" y2="251.9"/>
<line x1="206.2" y1="251.9" x2="206.5" y2="249.8"/>
<line x1="206.5" y1="249.8" x2="206.8" y2="249.4"/>
<line x1="206.8" y1="249.4" x2="207.1" y2="248.1"/>
<line x1="207.1" y1="248.1" x2="207.4" y2="248.9"/>
<line x1="207.4" y1="248.9" x2="207.6" y2="246.3"/>
<line x1="207.6" y1="246.3" x2="207.9" y2="246.9"/>
<line x1="207.9" y1="246.9" x2="208.2" y2="244.6"/>
<line x1="208.2" y1="244.6" x2="208.4" y2="242.4"/>
<line x1="208.4" y1="242.4" x2="208.7" y2="242.5"/>
<line x1="208.7" y1="242.5" x2="209.0" y2="242.2"/>
<line x1="209.0" y1="242.2" x2="209.3" y2="244.1"/>
<line x1="209.3" y1="244.1" x2="209.6" y2="243.5"/>
<line x1="209.6" y1="243.5" x2="209.8" y2="245.6"/>
<line x1="209.8" y1="245.6" x2="210.1" y2="248.3"/>
<line x1="210.1" y1="248.3" x2="210.4" y2="248.5"/>
<line x1="210.4" y1="248.5" x2="210.7" y2="249.6"/>
<line x1="210.7" y1="249.6" x2="211.0" y2="251.2"/>
<line x1="211.0" y1="251.2" x2="211.3" y2="250.8"/>
<line x1="211.3" y1="250.8" x2="211.6" y2="251.5"/>
<line x1="211.6" y1="251.5" x2="211.9" y2="252.6"/>
<line x1="211.9" y1="252.6" x2="212.2" y2="252.1"/>
<line x1="212.2" y1="252.1" x2="212.5" y2="251.9"/>
<line x1="212.5" y1="251.9" x2="212.8" y2="252.6"/>
<line x1="212.8" y1="252.6" x2="213.0" y2="254.2"/>
<line x1="213.0" y1="254.2" x2="213.3" y2="255.4"/>
<line x1="213.3" y1="255.4" x2="213.6" y2="254.8"/>
<line x1="213.6" y1="254.8" x2="213.9" y2="254.6"/>
<line x1="213.9" y1="254.6" x2="214.1" y2="253.8"/>
<line x1="214.1" y1="253.8" x2="214.4" y2="251.5"/>
<line x1="214.4" y1="251.5" x2="214.6" y2="253.5"/>
<line x1="214.6" y1="253.5" x2="214.9" y2="251.2"/>
<line x1="214.9" y1="251.2" x2="215.2" y2="253.1"/>
<line x1="215.2" y1="253.1" x2="215.4" y2="252.4"/>
<line x1="215.4" y1="252.4" x2="215.7" y2="255.2"/>
<line x1="215.7" y1="255.2" x2="215.9" y2="255.4"/>
<line x1="215.9" y1="255.4" x2="216.2" y2="255.7"/>
<line x1="216.2" y1="255.7" x2="216.4" y2="255.0"/>
<line x1="216.4" y1="255.0" x2="216.7" y2="252.8"/>
<line x1="216.7" y1="252.8" x2="216.9" y2="249.4"/>
<line x1="216.9" y1="249.4" x2="217.2" y2="248.5"/>
<line x1="217.2" y1="248.5" x2="217.5" y2="249.4"/>
<line x1="217.5" y1="249.4" x2="217.7" y2="251.8"/>
<line x1="217.7" y1="251.8" x2="218.0" y2="255.1"/>
<line x1="218.0" y1="255.1" x2="218.2" y2="257.7"/>
<line x1="218.2" y1="257.7" x2="218.5" y2="258.4"/>
<line x1="218.5" y1="258.4" x2="218.8" y2="259.6"/>
<line x1="218.8" y1="259.6" x2="219.0" y2="263.1"/>
<line x1="219.0" y1="263.1" x2="219.3" y2="264.6"/>
<line x1="219.3" y1="264.6" x2="219.5" y2="267.1"/>
<line x1="219.5" y1="267.1" x2="219.8" y2="267.4"/>
<line x1="219.8" y1="267.4" x2="220.1" y2="265.7"/>
<line x1="220.1" y1="265.7" x2="220.4" y2="265.6"/>
<line x1="220.4" y1="265.6" x2="220.6" y2="264.2"/>
<line x1="220.6" y1="264.2" x2="220.9" y2="265.0"/>
<line x1="220.9" y1="265.0" x2="221.2" y2="263.8"/>
<line x1="221.2" y1="263.8" x2="221.5" y2="264.0"/>
<line x1="221.5" y1="264.0" x2="221.8" y2="263.4"/>
<line x1="221.8" y1="263.4" x2="222.1" y2="261.0"/>
<line x1="222.1" y1="261.0" x2="222.4" y2="261.3"/>
<line x1="222.4" y1="261.3" x2="222.7" y2="258.5"/>
<line x1="222.7" y1="258.5" x2="223.0" y2="259.3"/>
<line x1="223.0" y1="259.3" x2="223.3" y2="257.7"/>
<line x1="223.3" y1="257.7" x2="223.6" y2="259.0"/>
<line x1="223.6" y1="259.0" x2="223.8" y2="256.8"/>
<line x1="223.8" y1="256.8" x2="224.1" y2="258.7"/>
<line x1="224.1" y1="258.7" x2="224.4" y2="257.5"/>
<line x1="224.4" y1="257.5" x2="224.7" y2="259.2"/>
<line x1="224.7" y1="259.2" x2="225.0" y2="256.7"/>
<line x1="225.0" y1="256.7" x2="225.3" y2="259.0"/>
<line x1="225.3" y1="259.0" x2="225.6" y2="259.2"/>
<line x1="225.6" y1="259.2" x2="225.9" y2="258.9"/>
<line x1="225.9" y1="258.9" x2="226.2" y2="258.4"/>
<line x1="226.2" y1="258.4" x2="226.5" y2="256.8"/>
<line x1="226.5" y1="256.8" x2="226.7" y2="255.1"/>
<line x1="226.7" y1="255.1" x2="227.0" y2="254.1"/>
<line x1="227.0" y1="254.1" x2="227.2" y2="253.0"/>
<line x1="227.2" y1="253.0" x2="227.5" y2="252.1"/>
<line x1="227.5" y1="252.1" x2="227.8" y2="250.9"/>
<line x1="227.8" y1="250.9" x2="228.1" y2="249.6"/>
<line x1="228.1" y1="249.6" x2="228.4" y2="251.2"/>
<line x1="228.4" y1="251.2" x2="228.7" y2="248.1"/>
<line x1="228.7" y1="248.1" x2="229.0" y2="247.7"/>
<line x1="229.0" y1="247.7" x2="229.3" y2="247.6"/>
<line x1="229.3" y1="247.6" x2="229.6" y2="245.5"/>
<line x1="229.6" y1="245.5" x2="229.8" y2="247.8"/>
<line x1="229.8" y1="247.8" x2="230.1" y2="245.2"/>
<line x1="230.1" y1="245.2" x2="230.3" y2="246.7"/>
<line x1="230.3" y1="246.7" x2="230.6" y2="244.9"/>
<line x1="230.6" y1="244.9" x2="230.9" y2="246.2"/>
<line x1="230.9" y1="246.2" x2="231.2" y2="247.2"/>
<line x1="231.2" y1="247.2" x2="231.4" y2="247.0"/>
<line x1="231.4" y1="247.0" x2="231.7" y2="248.0"/>
<line x1="231.7" y1="248.0" x2="232.0" y2="249.4"/>
<line x1="232.0" y1="249.4" x2="232.3" y2="251.0"/>
<line x1="232.3" y1="251.0" x2="232.6" y2="251.2"/>
<line x1="232.6" y1="251.2" x2="232.8" y2="251.7"/>
<line x1="232.8" y1="251.7" x2="233.1" y2="251.5"/>
<line x1="233.1" y1="251.5" x2="233.4" y2="251.2"/>
<line x1="233.4" y1="251.2" x2="233.7" y2="249.2"/>
<line x1="233.7" y1="249.2" x2="233.9" y2="247.4"/>
<line x1="233.9" y1="247.4" x2="234.2" y2="244.9"/>
<line x1="234.2" y1="244.9" x2="234.4" y2="243.2"/>
<line x1="234.4" y1="243.2" x2="234.7" y2="243.1"/>
<line x1="234.7" y1="243.1" x2="235.0" y2="242.9"/>
<line x1="235.0" y1="242.9" x2="235.2" y2="242.4"/>
<line x1="235.2" y1="242.4" x2="235.5" y2="240.1"/>
<line x1="235.5" y1="240.1" x2="235.7" y2="241.1"/>
<line x1="235.7" y1="241.1" x2="236.0" y2="239.5"/>
<line x1="236.0" y1="239.5" x2="236.3" y2="238.8"/>
<line x1="236.3" y1="238.8" x2="236.6" y2="242.5"/>
<line x1="236.6" y1="242.5" x2="236.8" y2="240.6"/>
<line x1="236.8" y1="240.6" x2="237.1" y2="243.7"/>
<line x1="237.1" y1="243.7" x2="237.4" y2="243.1"/>
<line x1="237.4" y1="243.1" x2="237.7" y2="245.1"/>
<line x1="237.7" y1="245.1" x2="238.0" y2="243.9"/>
<line x1="238.0" y1="243.9" x2="238.2" y2="245.3"/>
<line x1="238.2" y1="245.3" x2="238.5" y2="246.3"/>
<line x1="238.5" y1="246.3" x2="238.8" y2="247.6"/>
<line x1="238.8" y1="247.6" x2="239.1" y2="246.5"/>
<line x1="239.1" y1="246.5" x2="239.3" y2="245.7"/>
<line x1="239.3" y1="245.7" x2="239.6" y2="246.2"/>
<line x1="239.6" y1="246.2" x2="239.8" y2="245.0"/>
<line x1="239.8" y1="245.0" x2="240.1" y2="245.8"/>
<line x1="240.1" y1="245.8" x2="240.3" y2="246.8"/>
<line x1="240.3" y1="246.8" x2="240.6" y2="249.1"/>
<line x1="240.6" y1="249.1" x2="240.8" y2="248.4"/>
<line x1="240.8" y1="248.4" x2="241.0" y2="251.2"/>
<line x1="241.0" y1="251.2" x2="241.3" y2="250.2"/>
<line x1="241.3" y1="250.2" x2="241.5" y2="247.8"/>
<line x1="241.5" y1="247.8" x2="241.8" y2="246.5"/>
<line x1="241.8" y1="246.5" x2="242.0" y2="244.1"/>
<line x1="242.0" y1="244.1" x2="242.3" y2="244.0"/>
<line x1="242.3" y1="244.0" x2="242.6" y2="244.0"/>
<line x1="242.6" y1="244.0" x2="242.9" y2="241.8"/>
<line x1="242.9" y1="241.8" x2="243.1" y2="240.6"/>
<line x1="243.1" y1="240.6" x2="243.4" y2="241.3"/>
<line x1="243.4" y1="241.3" x2="243.7" y2="239.5"/>
<line x1="243.7" y1="239.5" x2="244.0" y2="238.0"/>
<line x1="244.0" y1="238.0" x2="244.3" y2="238.4"/>
<line x1="244.3" y1="238.4" x2="244.6" y2="238.7"/>
<line x1="244.6" y1="238.7" x2="244.9" y2="237.9"/>
<line x1="244.9" y1="237.9" x2="245.2" y2="234.4"/>
<line x1="245.2" y1="234.4" x2="245.5" y2="235.0"/>
<line x1="245.5" y1="235.0" x2="245.8" y2="233.8"/>
<line x1="245.8" y1="233.8" x2="246.1" y2="233.6"/>
<line x1="246.1" y1="233.6" x2="246.4" y2="233.1"/>
<line x1="246.4" y1="233.1" x2="246.7" y2="232.6"/>
<line x1="246.7" y1="232.6" x2="247.0" y2="232.5"/>
<line x1="247.0" y1="232.5" x2="247.3" y2="233.2"/>
<line x1="247.3" y1="233.2" x2="247.6" y2="233.6"/>
<line x1="247.6" y1="233.6" x2="247.9" y2="231.9"/>
<line x1="247.9" y1="231.9" x2="248.2" y2="234.0"/>
<line x1="248.2" y1="234.0" x2="248.5" y2="232.3"/>
<line x1="248.5" y1="232.3" x2="248.8" y2="232.9"/>
<line x1="248.8" y1="232.9" x2="249.1" y2="232.3"/>
<line x1="249.1" y1="232.3" x2="249.4" y2="230.0"/>
<line x1="249.4" y1="230.0" x2="249.7" y2="232.3"/>
<line x1="249.7" y1="232.3" x2="250.0" y2="231.1"/>
<line x1="250.0" y1="231.1" x2="250.3" y2="228.6"/>
<line x1="250.3" y1="228.6" x2="250.6" y2="227.0"/>
<line x1="250.6" y1="227.0" x2="250.9" y2="227.8"/>
<line x1="250.9" y1="227.8" x2="251.2" y2="226.7"/>
<line x1="251.2" y1="226.7" x2="251.4" y2="225.9"/>
<line x1="251.4" y1="225.9" x2="251.7" y2="226.3"/>
<line x1="251.7" y1="226.3" x2="251.9" y2="226.0"/>
<line x1="251.9" y1="226.0" x2="252.2" y2="226.9"/>
<line x1="252.2" y1="226.9" x2="252.5" y2="227.7"/>
<line x1="252.5" y1="227.7" x2="252.8" y2="229.1"/>
<line x1="252.8" y1="229.1" x2="253.0" y2="227.1"/>
<line x1="253.0" y1="227.1" x2="253.3" y2="227.6"/>
<line x1="253.3" y1="227.6" x2="253.6" y2="228.7"/>
<line x1="253.6" y1="228.7" x2="253.9" y2="229.0"/>
<line x1="253.9" y1="229.0" x2="254.2" y2="227.3"/>
<line x1="254.2" y1="227.3" x2="254.5" y2="226.3"/>
<line x1="254.5" y1="226.3" x2="254.8" y2="226.5"/>
<line x1="254.8" y1="226.5" x2="255.1" y2="226.4"/>
<line x1="255.1" y1="226.4" x2="255.4" y2="226.9"/>
<line x1="255.4" y1="226.9" x2="255.7" y2="227.6"/>
<line x1="255.7" y1="227.6" x2="256.0" y2="227.5"/>
<line x1="256.0" y1="227.5" x2="256.3" y2="226.5"/>
<line x1="256.3" y1="226.5" x2="256.6" y2="226.9"/>
<line x1="256.6" y1="226.9" x2="256.9" y2="226.5"/>
<line x1="256.9" y1="226.5" x2="257.2" y2="225.1"/>
<line x1="257.2" y1="225.1" x2="257.5" y2="224.7"/>
<line x1="257.5" y1="224.7" x2="257.8" y2="224.9"/>
<line x1="257.8" y1="224.9" x2="258.0" y2="226.9"/>
<line x1="258.0" y1="226.9" x2="258.3" y2="225.3"/>
<line x1="258.3" y1="225.3" x2="258.6" y2="226.9"/>
<line x1="258.6" y1="226.9" x2="258.9" y2="224.6"/>
<line x1="258.9" y1="224.6" x2="259.1" y2="225.2"/>
<line x1="259.1" y1="225.2" x2="259.4" y2="225.2"/>
<line x1="259.4" y1="225.2" x2="259.6" y2="224.1"/>
<line x1="259.6" y1="224.1" x2="259.9" y2="221.5"/>
<line x1="259.9" y1="221.5" x2="260.2" y2="220.4"/>
<line x1="260.2" y1="220.4" x2="260.4" y2="219.9"/>
<line x1="260.4" y1="219.9" x2="260.7" y2="218.3"/>
<line x1="260.7" y1="218.3" x2="260.9" y2="220.6"/>
<line x1="260.9" y1="220.6" x2="261.2" y2="218.8"/>
<line x1="261.2" y1="218.8" x2="261.4" y2="220.6"/>
<line x1="261.4" y1="220.6" x2="261.7" y2="219.9"/>
<line x1="261.7" y1="219.9" x2="261.9" y2="221.5"/>
<line x1="261.9" y1="221.5" x2="262.2" y2="223.3"/>
<line x1="262.2" y1="223.3" x2="262.5" y2="222.6"/>
<line x1="262.5" y1="222.6" x2="262.7" y2="219.2"/>
<line x1="262.7" y1="219.2" x2="263.0" y2="219.6"/>
<line x1="263.0" y1="219.6" x2="263.2" y2="217.7"/>
<line x1="263.2" y1="217.7" x2="263.5" y2="215.2"/>
<line x1="263.5" y1="215.2" x2="263.8" y2="214.4"/>
<line x1="263.8" y1="214.4" x2="264.1" y2="215.2"/>
<line x1="264.1" y1="215.2" x2="264.4" y2="213.3"/>
<line x1="264.4" y1="213.3" x2="264.7" y2="215.8"/>
<line x1="264.7" y1="215.8" x2="265.0" y2="215.8"/>
<line x1="265.0" y1="215.8" x2="265.3" y2="214.3"/>
<line x1="265.3" y1="214.3" x2="265.6" y2="212.2"/>
<line x1="265.6" y1="212.2" x2="265.9" y2="211.6"/>
<line x1="265.9" y1="211.6" x2="266.2" y2="212.2"/>
<line x1="266.2" y1="212.2" x2="266.5" y2="209.2"/>
<line x1="266.5" y1="209.2" x2="266.8" y2="208.5"/>
<line x1="266.8" y1="208.5" x2="267.1" y2="208.9"/>
<line x1="267.1" y1="208.9" x2="267.4" y2="207.4"/>
<line x1="267.4" y1="207.4" x2="267.6" y2="208.0"/>
<line x1="267.6" y1="208.0" x2="267.9" y2="205.1"/>
<line x1="267.9" y1="205.1" x2="268.1" y2="206.3"/>
<line x1="268.1" y1="206.3" x2="268.4" y2="204.4"/>
<line x1="268.4" y1="204.4" x2="268.7" y2="202.6"/>
<line x1="268.7" y1="202.6" x2="269.0" y2="205.0"/>
<line x1="269.0" y1="205.0" x2="269.2" y2="204.7"/>
<line x1="269.2" y1="204.7" x2="269.5" y2="202.6"/>
<line x1="269.5" y1="202.6" x2="269.8" y2="202.6"/>
<line x1="269.8" y1="202.6" x2="270.1" y2="202.5"/>
<line x1="270.1" y1="202.5" x2="270.4" y2="202.5"/>
<line x1="270.4" y1="202.5" x2="270.7" y2="202.5"/>
<line x1="270.7" y1="202.5" x2="271.0" y2="205.4"/>
<line x1="271.0" y1="205.4" x2="271.3" y2="205.8"/>
<line x1="271.3" y1="205.8" x2="271.6" y2="205.3"/>
<line x1="271.6" y1="205.3" x2="271.9" y2="205.4"/>
<line x1="271.9" y1="205.4" x2="272.2" y2="204.8"/>
<line x1="272.2" y1="204.8" x2="272.4" y2="203.2"/>
<line x1="272.4" y1="203.2" x2="272.7" y2="200.9"/>
<line x1="272.7" y1="200.9" x2="273.0" y2="200.8"/>
<line x1="273.0" y1="200.8" x2="273.3" y2="200.1"/>
<line x1="273.3" y1="200.1" x2="273.5" y2="203.0"/>
<line x1="273.5" y1="203.0" x2="273.8" y2="203.1"/>
<line x1="273.8" y1="203.1" x2="274.0" y2="203.3"/>
<line x1="274.0" y1="203.3" x2="274.3" y2="203.5"/>
<line x1="274.3" y1="203.5" x2="274.6" y2="202.1"/>
<line x1="274.6" y1="202.1" x2="274.9" y2="203.5"/>
<line x1="274.9" y1="203.5" x2="275.1" y2="202.9"/>
<line x1="275.1" y1="202.9" x2="275.4" y2="200.7"/>
<line x1="275.4" y1="200.7" x2="275.7" y2="200.8"/>
<line x1="275.7" y1="200.8" x2="276.0" y2="202.9"/>
<line x1="276.0" y1="202.9" x2="276.2" y2="200.3"/>
<line x1="276.2" y1="200.3" x2="276.5" y2="203.3"/>
<line x1="276.5" y1="203.3" x2="276.7" y2="202.5"/>
<line x1="276.7" y1="202.5" x2="277.0" y2="203.5"/>
<line x1="277.0" y1="203.5" x2="277.3" y2="202.7"/>
<line x1="277.3" y1="202.7" x2="277.6" y2="203.7"/>
<line x1="277.6" y1="203.7" x2="277.8" y2="203.8"/>
<line x1="277.8" y1="203.8" x2="278.1" y2="204.9"/>
<line x1="278.1" y1="204.9" x2="278.4" y2="206.2"/>
<line x1="278.4" y1="206.2" x2="278.7" y2="207.6"/>
<line x1="278.7" y1="207.6" x2="279.0" y2="208.4"/>
<line x1="279.0" y1="208.4" x2="279.3" y2="206.2"/>
<line x1="279.3" y1="206.2" x2="279.6" y2="208.8"/>
<line x1="279.6" y1="208.8" x2="279.9" y2="207.8"/>
<line x1="279.9" y1="207.8" x2="280.2" y2="208.9"/>
<line x1="280.2" y1="208.9" x2="280.5" y2="210.2"/>
<line x1="280.5" y1="210.2" x2="280.8" y2="210.4"/>
<line x1="280.8" y1="210.4" x2="281.1" y2="209.7"/>
<line x1="281.1" y1="209.7" x2="281.4" y2="210.3"/>
<line x1="281.4" y1="210.3" x2="281.7" y2="210.4"/>
<line x1="281.7" y1="210.4" x2="282.0" y2="209.8"/>
<line x1="282.0" y1="209.8" x2="282.3" y2="210.2"/>
<line x1="282.3" y1="210.2" x2="282.6" y2="207.7"/>
<line x1="282.6" y1="207.7" x2="282.9" y2="208.9"/>
<line x1="282.9" y1="208.9" x2="283.1" y2="209.4"/>
<line x1="283.1" y1="209.4" x2="283.4" y2="207.1"/>
<line x1="283.4" y1="207.1" x2="283.7" y2="207.1"/>
<line x1="283.7" y1="207.1" x2="284.0" y2="207.2"/>
<line x1="284.0" y1="207.2" x2="284.3" y2="203.6"/>
<line x1="284.3" y1="203.6" x2="284.5" y2="204.4"/>
<line x1="284.5" y1="204.4" x2="284.8" y2="200.9"/>
<line x1="284.8" y1="200.9" x2="285.1" y2="200.8"/>
<line x1="285.1" y1="200.8" x2="285.3" y2="198.4"/>
<line x1="285.3" y1="198.4" x2="285.6" y2="199.6"/>
<line x1="285.6" y1="199.6" x2="285.8" y2="197.0"/>
<line x1="285.8" y1="197.0" x2="286.0" y2="197.2"/>
<line x1="286.0" y1="197.2" x2="286.3" y2="196.8"/>
<line x1="286.3" y1="196.8" x2="286.5" y2="198.3"/>
<line x1="286.5" y1="198.3" x2="286.8" y2="197.2"/>
<line x1="286.8" y1="197.2" x2="287.0" y2="199.2"/>
<line x1="287.0" y1="199.2" x2="287.3" y2="198.1"/>
<line x1="287.3" y1="198.1" x2="287.5" y2="199.3"/>
<line x1="287.5" y1="199.3" x2="287.8" y2="201.4"/>
<line x1="287.8" y1="201.4" x2="288.0" y2="205.4"/>
<line x1="288.0" y1="205.4" x2="288.2" y2="207.1"/>
<line x1="288.2" y1="207.1" x2="288.5" y2="206.3"/>
<line x1="288.5" y1="206.3" x2="288.8" y2="208.6"/>
<line x1="288.8" y1="208.6" x2="289.0" y2="206.6"/>
<line x1="289.0" y1="206.6" x2="289.3" y2="208.7"/>
<line x1="289.3" y1="208.7" x2="289.6" y2="208.0"/>
<line x1="289.6" y1="208.0" x2="289.8" y2="208.4"/>
<line x1="289.8" y1="208.4" x2="290.1" y2="209.8"/>
<line x1="290.1" y1="209.8" x2="290.3" y2="210.8"/>
<line x1="290.3" y1="210.8" x2="290.5" y2="213.4"/>
<line x1="290.5" y1="213.4" x2="290.7" y2="213.6"/>
<line x1="290.7" y1="213.6" x2="290.9" y2="215.1"/>
<line x1="290.9" y1="215.1" x2="291.2" y2="217.7"/>
<line x1="291.2" y1="217.7" x2="291.4" y2="217.9"/>
<line x1="291.4" y1="217.9" x2="291.7" y2="217.6"/>
<line x1="291.7" y1="217.6" x2="292.0" y2="215.8"/>
<line x1="292.0" y1="215.8" x2="292.2" y2="215.2"/>
<line x1="292.2" y1="215.2" x2="292.5" y2="211.6"/>
<line x1="292.5" y1="211.6" x2="292.8" y2="210.7"/>
<line x1="292.8" y1="210.7" x2="293.1" y2="211.1"/>
<line x1="293.1" y1="211.1" x2="293.3" y2="208.9"/>
<line x1="293.3" y1="208.9" x2="293.6" y2="207.4"/>
<line x1="293.6" y1="207.4" x2="293.8" y2="209.2"/>
<line x1="293.8" y1="209.2" x2="294.1" y2="207.1"/>
<line x1="294.1" y1="207.1" x2="294.4" y2="206.0"/>
<line x1="294.4" y1="206.0" x2="294.7" y2="208.0"/>
<line x1="294.7" y1="208.0" x2="294.9" y2="206.2"/>
<line x1="294.9" y1="206.2" x2="295.2" y2="207.5"/>
<line x1="295.2" y1="207.5" x2="295.5" y2="206.2"/>
<line x1="295.5" y1="206.2" x2="295.7" y2="204.4"/>
<line x1="295.7" y1="204.4" x2="296.0" y2="202.5"/>
<line x1="296.0" y1="202.5" x2="296.2" y2="199.5"/>
<line x1="296.2" y1="199.5" x2="296.5" y2="198.0"/>
<line x1="296.5" y1="198.0" x2="296.8" y2="198.7"/>
<line x1="296.8" y1="198.7" x2="297.1" y2="195.7"/>
<line x1="297.1" y1="195.7" x2="297.4" y2="197.0"/>
<line x1="297.4" y1="197.0" x2="297.7" y2="196.2"/>
<line x1="297.7" y1="196.2" x2="298.0" y2="194.6"/>
<line x1="298.0" y1="194.6" x2="298.3" y2="195.3"/>
<line x1="298.3" y1="195.3" x2="298.6" y2="194.7"/>
<line x1="298.6" y1="194.7" x2="298.9" y2="193.7"/>
<line x1="298.9" y1="193.7" x2="299.2" y2="192.2"/>
<line x1="299.2" y1="192.2" x2="299.5" y2="191.3"/>
<line x1="299.5" y1="191.3" x2="299.8" y2="190.1"/>
<line x1="299.8" y1="190.1" x2="300.1" y2="188.5"/>
<line x1="300.1" y1="188.5" x2="300.4" y2="188.7"/>
<line x1="300.4" y1="188.7" x2="300.7" y2="190.2"/>
<line x1="300.7" y1="190.2" x2="301.0" y2="188.1"/>
<line x1="301.0" y1="188.1" x2="301.3" y2="188.3"/>
<line x1="301.3" y1="188.3" x2="301.6" y2="188.3"/>
<line x1="301.6" y1="188.3" x2="301.9" y2="185.7"/>
<line x1="301.9" y1="185.7" x2="302.1" y2="186.9"/>
<line x1="302.1" y1="186.9" x2="302.4" y2="183.2"/>
<line x1="302.4" y1="183.2" x2="302.6" y2="184.4"/>
<line x1="302.6" y1="184.4" x2="302.9" y2="182.0"/>
<line x1="302.9" y1="182.0" x2="303.2" y2="179.6"/>
<line x1="303.2" y1="179.6" x2="303.5" y2="179.5"/>
<line x1="303.5" y1="179.5" x2="303.7" y2="176.2"/>
<line x1="303.7" y1="176.2" x2="304.0" y2="173.4"/>
<line x1="304.0" y1="173.4" x2="304.3" y2="173.0"/>
<line x1="304.3" y1="173.0" x2="304.6" y2="174.7"/>
<line x1="304.6" y1="174.7" x2="304.8" y2="172.9"/>
<line x1="304.8" y1="172.9" x2="305.1" y2="172.8"/>
<line x1="305.1" y1="172.8" x2="305.3" y2="175.9"/>
<line x1="305.3" y1="175.9" x2="305.6" y2="174.8"/>
<line x1="305.6" y1="174.8" x2="305.9" y2="173.2"/>
<line x1="305.9" y1="173.2" x2="306.2" y2="173.7"/>
<line x1="306.2" y1="173.7" x2="306.4" y2="171.7"/>
<line x1="306.4" y1="171.7" x2="306.7" y2="170.5"/>
<line x1="306.7" y1="170.5" x2="307.0" y2="171.2"/>
<line x1="307.0" y1="171.2" x2="307.3" y2="171.9"/>
<line x1="307.3" y1="171.9" x2="307.6" y2="171.4"/>
<line x1="307.6" y1="171.4" x2="307.8" y2="168.9"/>
<line x1="307.8" y1="168.9" x2="308.1" y2="168.8"/>
<line x1="308.1" y1="168.8" x2="308.4" y2="169.4"/>
<line x1="308.4" y1="169.4" x2="308.7" y2="169.3"/>
<line x1="308.7" y1="169.3" x2="308.9" y2="166.1"/>
<line x1="308.9" y1="166.1" x2="309.2" y2="164.7"/>
<line x1="309.2" y1="164.7" x2="309.4" y2="164.2"/>
<line x1="309.4" y1="164.2" x2="309.7" y2="164.0"/>
<line x1="309.7" y1="164.0" x2="310.0" y2="162.2"/>
<line x1="310.0" y1="162.2" x2="310.3" y2="161.2"/>
<line x1="310.3" y1="161.2" x2="310.6" y2="161.6"/>
<line x1="310.6" y1="161.6" x2="310.9" y2="161.1"/>
<line x1="310.9" y1="161.1" x2="311.2" y2="160.3"/>
<line x1="311.2" y1="160.3" x2="311.5" y2="160.4"/>
<line x1="311.5" y1="160.4" x2="311.8" y2="158.9"/>
<line x1="311.8" y1="158.9" x2="312.1" y2="157.7"/>
<line x1="312.1" y1="157.7" x2="312.4" y2="159.9"/>
<line x1="312.4" y1="159.9" x2="312.7" y2="156.8"/>
<line x1="312.7" y1="156.8" x2="313.0" y2="156.7"/>
<line x1="313.0" y1="156.7" x2="313.3" y2="156.8"/>
<line x1="313.3" y1="156.8" x2="313.6" y2="156.9"/>
<line x1="313.6" y1="156.9" x2="313.9" y2="156.8"/>
<line x1="313.9" y1="156.8" x2="314.2" y2="153.3"/>
<line x1="314.2" y1="153.3" x2="314.5" y2="153.4"/>
<line x1="314.5" y1="153.4" x2="314.8" y2="152.2"/>
<line x1="314.8" y1="152.2" x2="315.1" y2="152.3"/>
<line x1="315.1" y1="152.3" x2="315.4" y2="153.2"/>
<line x1="315.4" y1="153.2" x2="315.7" y2="150.2"/>
<line x1="315.7" y1="150.2" x2="316.0" y2="152.5"/>
<line x1="316.0" y1="152.5" x2="316.3" y2="151.9"/>
<line x1="316.3" y1="151.9" x2="316.6" y2="151.7"/>
<line x1="316.6" y1="151.7" x2="316.9" y2="150.5"/>
<line x1="316.9" y1="150.5" x2="317.2" y2="149.3"/>
<line x1="317.2" y1="149.3" x2="317.4" y2="148.3"/>
<line x1="317.4" y1="148.3" x2="317.7" y2="147.2"/>
<line x1="317.7" y1="147.2" x2="317.9" y2="148.5"/>
<line x1="317.9" y1="148.5" x2="318.2" y2="146.9"/>
<line x1="318.2" y1="146.9" x2="318.4" y2="147.8"/>
<line x1="318.4" y1="147.8" x2="318.7" y2="146.2"/>
<line x1="318.7" y1="146.2" x2="318.9" y2="143.8"/>
<line x1="318.9" y1="143.8" x2="319.2" y2="144.2"/>
<line x1="319.2" y1="144.2" x2="319.5" y2="146.7"/>
<line x1="319.5" y1="146.7" x2="319.7" y2="145.0"/>
<line x1="319.7" y1="145.0" x2="320.0" y2="148.5"/>
<line x1="320.0" y1="148.5" x2="320.2" y2="147.7"/>
<line x1="320.2" y1="147.7" x2="320.5" y2="149.6"/>
<line x1="320.5" y1="149.6" x2="320.8" y2="150.3"/>
<line x1="320.8" y1="150.3" x2="321.0" y2="147.5"/>
<line x1="321.0" y1="147.5" x2="321.3" y2="149.7"/>
<line x1="321.3" y1="149.7" x2="321.5" y2="148.8"/>
<line x1="321.5" y1="148.8" x2="321.8" y2="147.8"/>
<line x1="321.8" y1="147.8" x2="322.1" y2="149.2"/>
<line x1="322.1" y1="149.2" x2="322.4" y2="148.9"/>
<line x1="322.4" y1="148.9" x2="322.6" y2="149.1"/>
<line x1="322.6" y1="149.1" x2="322.9" y2="150.7"/>
<line x1="322.9" y1="150.7" x2="323.2" y2="152.3"/>
<line x1="323.2" y1="152.3" x2="323.5" y2="152.7"/>
<line x1="323.5" y1="152.7" x2="323.8" y2="150.6"/>
<line x1="323.8" y1="150.6" x2="324.0" y2="152.6"/>
<line x1="324.0" y1="152.6" x2="324.3" y2="149.5"/>
<line x1="324.3" y1="149.5" x2="324.6" y2="150.5"/>
<line x1="324.6" y1="150.5" x2="324.9" y2="148.7"/>
<line x1="324.9" y1="148.7" x2="325.1" y2="147.2"/>
<line x1="325.1" y1="147.2" x2="325.4" y2="148.5"/>
<line x1="325.4" y1="148.5" x2="325.6" y2="147.2"/>
<line x1="325.6" y1="147.2" x2="325.9" y2="145.1"/>
<line x1="325.9" y1="145.1" x2="326.2" y2="142.9"/>
<line x1="326.2" y1="142.9" x2="326.4" y2="144.3"/>
<line x1="326.4" y1="144.3" x2="326.7" y2="143.7"/>
<line x1="326.7" y1="143.7" x2="326.9" y2="140.7"/>
<line x1="326.9" y1="140.7" x2="327.2" y2="140.6"/>
<line x1="327.2" y1="140.6" x2="327.5" y2="141.7"/>
<line x1="327.5" y1="141.7" x2="327.8" y2="140.8"/>
<line x1="327.8" y1="140.8" x2="328.0" y2="139.0"/>
<line x1="328.0" y1="139.0" x2="328.3" y2="138.7"/>
<line x1="328.3" y1="138.7" x2="328.6" y2="138.8"/>
<line x1="328.6" y1="138.8" x2="328.9" y2="140.3"/>
<line x1="328.9" y1="140.3" x2="329.2" y2="141.1"/>
<line x1="329.2" y1="141.1" x2="329.4" y2="140.3"/>
<line x1="329.4" y1="140.3" x2="329.7" y2="142.5"/>
<line x1="329.7" y1="142.5" x2="330.0" y2="142.4"/>
<line x1="330.0" y1="142.4" x2="330.3" y2="141.1"/>
<line x1="330.3" y1="141.1" x2="330.5" y2="142.6"/>
<line x1="330.5" y1="142.6" x2="330.8" y2="140.1"/>
<line x1="330.8" y1="140.1" x2="331.0" y2="139.5"/>
<line x1="331.0" y1="139.5" x2="331.3" y2="139.7"/>
<line x1="331.3" y1="139.7" x2="331.6" y2="138.2"/>
<line x1="331.6" y1="138.2" x2="331.8" y2="136.0"/>
<line x1="331.8" y1="136.0" x2="332.1" y2="137.5"/>
<line x1="332.1" y1="137.5" x2="332.3" y2="134.7"/>
<line x1="332.3" y1="134.7" x2="332.6" y2="134.3"/>
<line x1="332.6" y1="134.3" x2="332.9" y2="134.2"/>
<line x1="332.9" y1="134.2" x2="333.2" y2="133.6"/>
<line x1="333.2" y1="133.6" x2="333.4" y2="130.7"/>
<line x1="333.4" y1="130.7" x2="333.7" y2="129.6"/>
<line x1="333.7" y1="129.6" x2="334.0" y2="129.4"/>
<line x1="334.0" y1="129.4" x2="334.2" y2="130.5"/>
<line x1="334.2" y1="130.5" x2="334.4" y2="132.8"/>
<line x1="334.4" y1="132.8" x2="334.7" y2="136.5"/>
<line x1="334.7" y1="136.5" x2="334.9" y2="137.0"/>
<line x1="334.9" y1="137.0" x2="335.2" y2="139.2"/>
<line x1="335.2" y1="139.2" x2="335.4" y2="138.1"/>
<line x1="335.4" y1="138.1" x2="335.7" y2="142.3"/>
<line x1="335.7" y1="142.3" x2="335.9" y2="141.4"/>
<line x1="335.9" y1="141.4" x2="336.2" y2="143.3"/>
<line x1="336.2" y1="143.3" x2="336.4" y2="143.5"/>
<line x1="336.4" y1="143.5" x2="336.7" y2="146.5"/>
<line x1="336.7" y1="146.5" x2="336.9" y2="146.6"/>
<line x1="336.9" y1="146.6" x2="337.2" y2="148.7"/>
<line x1="337.2" y1="148.7" x2="337.5" y2="148.0"/>
<line x1="337.5" y1="148.0" x2="337.7" y2="150.0"/>
<line x1="337.7" y1="150.0" x2="338.0" y2="152.9"/>
<line x1="338.0" y1="152.9" x2="338.2" y2="150.8"/>
<line x1="338.2" y1="150.8" x2="338.5" y2="153.2"/>
<line x1="338.5" y1="153.2" x2="338.8" y2="153.1"/>
<line x1="338.8" y1="153.1" x2="339.0" y2="155.1"/>
<line x1="339.0" y1="155.1" x2="339.3" y2="157.4"/>
<line x1="339.3" y1="157.4" x2="339.5" y2="157.5"/>
<line x1="339.5" y1="157.5" x2="339.8" y2="159.5"/>
<line x1="339.8" y1="159.5" x2="340.1" y2="156.4"/>
<line x1="340.1" y1="156.4" x2="340.3" y2="157.4"/>
<line x1="340.3" y1="157.4" x2="340.6" y2="156.1"/>
<line x1="340.6" y1="156.1" x2="340.8" y2="153.2"/>
<line x1="340.8" y1="153.2" x2="341.0" y2="150.5"/>
<line x1="341.0" y1="150.5" x2="341.2" y2="150.2"/>
<line x1="341.2" y1="150.2" x2="341.5" y2="147.0"/>
<line x1="341.5" y1="147.0" x2="341.7" y2="146.0"/>
<line x1="341.7" y1="146.0" x2="342.0" y2="145.3"/>
<line x1="342.0" y1="145.3" x2="342.2" y2="142.1"/>
<line x1="342.2" y1="142.1" x2="342.5" y2="141.3"/>
<line x1="342.5" y1="141.3" x2="342.7" y2="139.6"/>
<line x1="342.7" y1="139.6" x2="343.0" y2="139.7"/>
<line x1="343.0" y1="139.7" x2="343.3" y2="137.8"/>
<line x1="343.3" y1="137.8" x2="343.6" y2="138.6"/>
<line x1="343.6" y1="138.6" x2="343.8" y2="140.1"/>
<line x1="343.8" y1="140.1" x2="344.1" y2="136.9"/>
<line x1="344.1" y1="136.9" x2="344.4" y2="137.9"/>
<line x1="344.4" y1="137.9" x2="344.7" y2="136.0"/>
<line x1="344.7" y1="136.0" x2="344.9" y2="138.6"/>
<line x1="344.9" y1="138.6" x2="345.2" y2="135.9"/>
<line x1="345.2" y1="135.9" x2="345.4" y2="137.2"/>
<line x1="345.4" y1="137.2" x2="345.7" y2="136.1"/>
<line x1="345.7" y1="136.1" x2="346.0" y2="134.6"/>
<line x1="346.0" y1="134.6" x2="346.2" y2="135.5"/>
<line x1="346.2" y1="135.5" x2="346.5" y2="133.2"/>
<line x1="346.5" y1="133.2" x2="346.7" y2="132.7"/>
<line x1="346.7" y1="132.7" x2="347.0" y2="133.4"/>
<line x1="347.0" y1="133.4" x2="347.3" y2="132.3"/>
<line x1="347.3" y1="132.3" x2="347.6" y2="132.4"/>
<line x1="347.6" y1="132.4" x2="347.8" y2="133.5"/>
<line x1="347.8" y1="133.5" x2="348.1" y2="132.0"/>
<line x1="348.1" y1="132.0" x2="348.4" y2="132.5"/>
<line x1="348.4" y1="132.5" x2="348.7" y2="133.1"/>
<line x1="348.7" y1="133.1" x2="349.0" y2="131.5"/>
<line x1="349.0" y1="131.5" x2="349.2" y2="131.2"/>
<line x1="349.2" y1="131.2" x2="349.5" y2="132.2"/>
<line x1="349.5" y1="132.2" x2="349.8" y2="131.6"/>
<line x1="349.8" y1="131.6" x2="350.1" y2="129.6"/>
<line x1="350.1" y1="129.6" x2="350.3" y2="128.9"/>
<line x1="350.3" y1="128.9" x2="350.6" y2="129.5"/>
<line x1="350.6" y1="129.5" x2="350.8" y2="128.2"/>
<line x1="350.8" y1="128.2" x2="351.1" y2="126.9"/>
<line x1="351.1" y1="126.9" x2="351.4" y2="130.2"/>
<line x1="351.4" y1="130.2" x2="351.7" y2="127.3"/>
<line x1="351.7" y1="127.3" x2="352.0" y2="128.3"/>
<line x1="352.0" y1="128.3" x2="352.3" y2="130.7"/>
<line x1="352.3" y1="130.7" x2="352.6" y2="129.5"/>
<line x1="352.6" y1="129.5" x2="352.9" y2="127.6"/>
<line x1="352.9" y1="127.6" x2="353.2" y2="129.0"/>
<line x1="353.2" y1="129.0" x2="353.5" y2="127.1"/>
<line x1="353.5" y1="127.1" x2="353.8" y2="128.4"/>
<line x1="353.8" y1="128.4" x2="354.1" y2="127.2"/>
<line x1="354.1" y1="127.2" x2="354.4" y2="126.4"/>
<line x1="354.4" y1="126.4" x2="354.7" y2="126.5"/>
<line x1="354.7" y1="126.5" x2="355.0" y2="125.9"/>
<line x1="355.0" y1="125.9" x2="355.3" y2="125.6"/>
<line x1="355.3" y1="125.6" x2="355.6" y2="124.1"/>
<line x1="355.6" y1="124.1" x2="355.9" y2="123.2"/>
<line x1="355.9" y1="123.2" x2="356.2" y2="123.7"/>
<line x1="356.2" y1="123.7" x2="356.5" y2="121.9"/>
<line x1="356.5" y1="121.9" x2="356.7" y2="121.5"/>
<line x1="356.7" y1="121.5" x2="357.0" y2="120.6"/>
<line x1="357.0" y1="120.6" x2="357.2" y2="122.8"/>
<line x1="357.2" y1="122.8" x2="357.5" y2="121.0"/>
<line x1="357.5" y1="121.0" x2="358.0" y2="115.6"/>
<line x1="358.0" y1="115.6" x2="358.2" y2="114.1"/>
<line x1="358.2" y1="114.1" x2="358.4" y2="112.7"/>
<line x1="358.4" y1="112.7" x2="358.7" y2="112.6"/>
<line x1="358.7" y1="112.6" x2="358.9" y2="112.0"/>
<line x1="358.9" y1="112.0" x2="359.2" y2="113.8"/>
<line x1="359.2" y1="113.8" x2="359.4" y2="111.7"/>
<line x1="359.4" y1="111.7" x2="359.7" y2="113.8"/>
<line x1="359.7" y1="113.8" x2="359.9" y2="113.9"/>
<line x1="359.9" y1="113.9" x2="360.2" y2="113.8"/>
<line x1="360.2" y1="113.8" x2="360.4" y2="113.9"/>
<line x1="360.4" y1="113.9" x2="360.7" y2="111.6"/>
<line x1="360.7" y1="111.6" x2="360.9" y2="110.4"/>
<line x1="360.9" y1="110.4" x2="361.2" y2="108.4"/>
<line x1="361.2" y1="108.4" x2="361.5" y2="108.2"/>
<line x1="361.5" y1="108.2" x2="361.7" y2="108.4"/>
<line x1="361.7" y1="108.4" x2="362.0" y2="106.0"/>
<line x1="362.0" y1="106.0" x2="362.2" y2="107.8"/>
<line x1="362.2" y1="107.8" x2="362.5" y2="105.7"/>
<line x1="362.5" y1="105.7" x2="362.7" y2="106.1"/>
<line x1="362.7" y1="106.1" x2="362.9" y2="106.1"/>
<line x1="362.9" y1="106.1" x2="363.2" y2="109.7"/>
<line x1="363.2" y1="109.7" x2="363.4" y2="109.3"/>
<line x1="363.4" y1="109.3" x2="363.6" y2="109.0"/>
<line x1="363.6" y1="109.0" x2="363.9" y2="105.9"/>
<line x1="363.9" y1="105.9" x2="364.1" y2="103.7"/>
<line x1="364.1" y1="103.7" x2="364.3" y2="103.9"/>
<line x1="364.3" y1="103.9" x2="364.8" y2="94.0"/>
<line x1="364.8" y1="94.0" x2="365.1" y2="94.2"/>
<line x1="365.1" y1="94.2" x2="365.3" y2="91.6"/>
<line x1="365.3" y1="91.6" x2="365.6" y2="91.5"/>
<line x1="365.6" y1="91.5" x2="365.8" y2="90.5"/>
<line x1="365.8" y1="90.5" x2="366.1" y2="90.4"/>
<line x1="366.1" y1="90.4" x2="366.3" y2="89.0"/>
<line x1="366.3" y1="89.0" x2="366.6" y2="89.2"/>
<line x1="366.6" y1="89.2" x2="366.8" y2="87.4"/>
<line x1="366.8" y1="87.4" x2="367.0" y2="86.8"/>
<line x1="367.0" y1="86.8" x2="367.3" y2="86.7"/>
<line x1="367.3" y1="86.7" x2="367.6" y2="88.9"/>
<line x1="367.6" y1="88.9" x2="367.8" y2="88.9"/>
<line x1="367.8" y1="88.9" x2="368.1" y2="87.7"/>
<line x1="368.1" y1="87.7" x2="368.4" y2="89.5"/>
<line x1="368.4" y1="89.5" x2="368.7" y2="88.3"/>
<line x1="368.7" y1="88.3" x2="368.9" y2="89.4"/>
<line x1="368.9" y1="89.4" x2="369.2" y2="88.3"/>
<line x1="369.2" y1="88.3" x2="369.4" y2="86.5"/>
<line x1="369.4" y1="86.5" x2="369.7" y2="86.8"/>
<line x1="369.7" y1="86.8" x2="370.0" y2="85.4"/>
<line x1="370.0" y1="85.4" x2="370.2" y2="84.7"/>
<line x1="370.2" y1="84.7" x2="370.5" y2="84.6"/>
<line x1="370.5" y1="84.6" x2="370.7" y2="86.6"/>
<line x1="370.7" y1="86.6" x2="371.0" y2="85.0"/>
<line x1="371.0" y1="85.0" x2="371.3" y2="82.6"/>
<line x1="371.3" y1="82.6" x2="371.6" y2="81.7"/>
<line x1="371.6" y1="81.7" x2="371.8" y2="83.5"/>
<line x1="371.8" y1="83.5" x2="372.1" y2="80.6"/>
<line x1="372.1" y1="80.6" x2="372.4" y2="80.5"/>
<line x1="372.4" y1="80.5" x2="372.6" y2="77.6"/>
<line x1="372.6" y1="77.6" x2="372.9" y2="78.2"/>
<line x1="372.9" y1="78.2" x2="373.1" y2="77.0"/>
<line x1="373.1" y1="77.0" x2="373.3" y2="74.2"/>
<line x1="373.3" y1="74.2" x2="373.6" y2="76.3"/>
<line x1="373.6" y1="76.3" x2="373.8" y2="74.9"/>
<line x1="373.8" y1="74.9" x2="374.1" y2="74.8"/>
<line x1="374.1" y1="74.8" x2="374.3" y2="77.7"/>
<line x1="374.3" y1="77.7" x2="374.6" y2="77.8"/>
<line x1="374.6" y1="77.8" x2="374.9" y2="78.3"/>
<line x1="374.9" y1="78.3" x2="375.1" y2="75.7"/>
<line x1="375.1" y1="75.7" x2="375.4" y2="75.4"/>
<line x1="375.4" y1="75.4" x2="375.6" y2="75.1"/>
<line x1="375.6" y1="75.1" x2="375.8" y2="77.7"/>
<line x1="375.8" y1="77.7" x2="376.1" y2="78.6"/>
<line x1="376.1" y1="78.6" x2="376.3" y2="82.7"/>
<line x1="376.3" y1="82.7" x2="376.5" y2="83.2"/>
<line x1="376.5" y1="83.2" x2="376.7" y2="82.5"/>
<line x1="376.7" y1="82.5" x2="376.9" y2="79.3"/>
<line x1="376.9" y1="79.3" x2="377.2" y2="79.3"/>
<line x1="377.2" y1="79.3" x2="377.4" y2="76.0"/>
<line x1="377.4" y1="76.0" x2="377.6" y2="75.3"/>
<line x1="377.6" y1="75.3" x2="377.9" y2="71.3"/>
<line x1="377.9" y1="71.3" x2="378.1" y2="71.1"/>
<line x1="378.1" y1="71.1" x2="378.3" y2="68.8"/>
<line x1="378.3" y1="68.8" x2="378.6" y2="67.4"/>
<line x1="378.6" y1="67.4" x2="378.8" y2="67.0"/>
<line x1="378.8" y1="67.0" x2="379.1" y2="67.9"/>
<line x1="379.1" y1="67.9" x2="379.3" y2="66.2"/>
<line x1="379.3" y1="66.2" x2="379.6" y2="66.1"/>
<line x1="379.6" y1="66.1" x2="379.9" y2="66.3"/>
<line x1="379.9" y1="66.3" x2="380.2" y2="64.9"/>
<line x1="380.2" y1="64.9" x2="380.4" y2="64.1"/>
<line x1="380.4" y1="64.1" x2="380.7" y2="66.4"/>
<line x1="380.7" y1="66.4" x2="381.0" y2="65.2"/>
<line x1="381.0" y1="65.2" x2="381.3" y2="66.4"/>
<line x1="381.3" y1="66.4" x2="381.5" y2="65.0"/>
<line x1="381.5" y1="65.0" x2="381.8" y2="68.2"/>
<line x1="381.8" y1="68.2" x2="382.0" y2="66.2"/>
<line x1="382.0" y1="66.2" x2="382.3" y2="67.9"/>
<line x1="382.3" y1="67.9" x2="381.8" y2="69.5"/>
</g>
<g stroke-width="1" shape-rendering="crispEdges" fill="none">
<line x1="77.6" y1="464.4" x2="435.9" y2="53.5" stroke="#00ff00" stroke-width="0.99"/>
<line x1="292" y1="218.5" x2="476" y2="218.5" stroke="#00ff00"/>
<line x1="291.6" y1="218.3" x2="426.5" y2="53.5" stroke="#0000ff" stroke-width="0.99"/>
<line x1="336" y1="159.5" x2="481" y2="159.5" stroke="#0000ff"/>
<line x1="339.85" y1="159" x2="393.7" y2="53.6" stroke="#00ffff" stroke-width="0.99"/>
<line x1="357" y1="124.5" x2="486" y2="124.5" stroke="#00ffff"/>
<line x1="356.8" y1="123.6" x2="389.8" y2="57.8" stroke="#000000" stroke-width="0.99"/>
<line x1="377" y1="84.5" x2="487" y2="84.5" stroke="#000000"/>
</g>
<g stroke="#000000" stroke-width="1" shape-rendering="crispEdges" fill="none">
<rect x="32.5" y="17.5" width="632" height="464"/>
<line x1="28" y1="480.5" x2="32" y2="480.5"/>
<line x1="665" y1="480.5" x2="669" y2="480.5"/>
<line x1="30" y1="468.5" x2="32" y2="468.5"/>
<line x1="665" y1="468.5" x2="667" y2="468.5"/>
<line x1="30" y1="456.5" x2="32" y2="456.5"/>
<line x1="665" y1="456.5" x2="667" y2="456.5"/>
<line x1="30" y1="443.5" x2="32" y2="443.5"/>
<line x1="665" y1="443.5" x2="667" y2="443.5"/>
<line x1="30" y1="431.5" x2="32" y2="431.5"/>
<line x1="665" y1="431.5" x2="667" y2="431.5"/>
<line x1="28" y1="419.5" x2="32" y2="419.5"/>
<line x1="665" y1="419.5" x2="669" y2="419.5"/>
<line x1="30" y1="409.5" x2="32" y2="409.5"/>
<line x1="665" y1="409.5" x2="667" y2="409.5"/>
<line x1="30" y1="399.5" x2="32" y2="399.5"/>
<line x1="665" y1="399.5" x2="667" y2="399.5"/>
<line x1="30" y1="388.5" x2="32" y2="388.5"/>
<line x1="665" y1="388.5" x2="667" y2="388.5"/>
<line x1="30" y1="378.5" x2="32" y2="378.5"/>
<line x1="665" y1="378.5" x2="667" y2="378.5"/>
<line x1="28" y1="368.5" x2="32" y2="368.5"/>
<line x1="665" y1="368.5" x2="669" y2="368.5"/>
<line x1="30" y1="359.5" x2="32" y2="359.5"/>
<line x1="665" y1="359.5" x2="667" y2="359.5"/>
<line x1="30" y1="350.5" x2="32" y2="350.5"/>
<line x1="665" y1="350.5" x2="667" y2="350.5"/>
<line x1="30" y1="341.5" x2="32" y2="341.5"/>
<line x1="665" y1="341.5" x2="667" y2="341.5"/>
<line x1="30" y1="332.5" x2="32" y2="332.5"/>
<line x1="665" y1="332.5" x2="667" y2="332.5"/>
<line x1="28" y1="323.5" x2="32" y2="323.5"/>
<line x1="665" y1="323.5" x2="669" y2="323.5"/>
<line x1="30" y1="315.5" x2="32" y2="315.5"/>
<line x1="665" y1="315.5" x2="667" y2="315.5"/>
<line x1="30" y1="307.5" x2="32" y2="307.5"/>
<line x1="665" y1="307.5" x2="667" y2="307.5"/>
<line x1="30" y1="300.5" x2="32" y2="300.5"/>
<line x1="665" y1="300.5" x2="667" y2="300.5"/>
<line x1="30" y1="292.5" x2="32" y2="292.5"/>
<line x1="665" y1="292.5" x2="667" y2="292.5"/>
<line x1="28" y1="284.5" x2="32" y2="284.5"/>
<line x1="665" y1="284.5" x2="669" y2="284.5"/>
<line x1="30" y1="277.5" x2="32" y2="277.5"/>
<line x1="665" y1="277.5" x2="667" y2="277.5"/>
<line x1="30" y1="270.5" x2="32" y2="270.5"/>
<line x1="665" y1="270.5" x2="667" y2="270.5"/>
<line x1="30" y1="263.5" x2="32" y2="263.5"/>
<line x1="665" y1="263.5" x2="667" y2="263.5"/>
<line x1="30" y1="256.5" x2="32" y2="256.5"/>
<line x1="665" y1="256.5" x2="667" y2="256.5"/>
<line x1="28" y1="249.5" x2="32" y2="249.5"/>
<line x1="665" y1="249.5" x2="669" y2="249.5"/>
<line x1="30" y1="243.5" x2="32" y2="243.5"/>
<line x1="665" y1="243.5" x2="667" y2="243.5"/>
<line x1="30" y1="236.5" x2="32" y2="236.5"/>
<line x1="665" y1="236.5" x2="667" y2="236.5"/>
<line x1="30" y1="230.5" x2="32" y2="230.5"/>
<line x1="665" y1="230.5" x2="667" y2="230.5"/>
<line x1="30" y1="223.5" x2="32" y2="223.5"/>
<line x1="665" y1="223.5" x2="667" y2="223.5"/>
<line x1="28" y1="217.5" x2="32" y2="217.5"/>
<line x1="665" y1="217.5" x2="669" y2="217.5"/>
<line x1="30" y1="211.5" x2="32" y2="211.5"/>
<line x1="665" y1="211.5" x2="667" y2="211.5"/>
<line x1="30" y1="205.5" x2="32" y2="205.5"/>
<line x1="665" y1="205.5" x2="667" y2="205.5"/>
<line x1="30" y1="200.5" x2="32" y2="200.5"/>
<line x1="665" y1="200.5" x2="667" y2="200.5"/>
<line x1="30" y1="194.5" x2="32" y2="194.5"/>
<line x1="665" y1="194.5" x2="667" y2="194.5"/>
<line x1="28" y1="188.5" x2="32" y2="188.5"/>
<line x1="665" y1="188.5" x2="669" y2="188.5"/>
<line x1="30" y1="183.5" x2="32" y2="183.5"/>
<line x1="665" y1="183.5" x2="667" y2="183.5"/>
<line x1="30" y1="178.5" x2="32" y2="178.5"/>
<line x1="665" y1="178.5" x2="667" y2="178.5"/>
<line x1="30" y1="172.5" x2="32" y2="172.5"/>
<line x1="665" y1="172.5" x2="667" y2="172.5"/>
<line x1="30" y1="167.5" x2="32" y2="167.5"/>
<line x1="665" y1="167.5" x2="667" y2="167.5"/>
<line x1="28" y1="162.5" x2="32" y2="162.5"/>
<line x1="665" y1="162.5" x2="669" y2="162.5"/>
<line x1="30" y1="157.5" x2="32" y2="157.5"/>
<line x1="665" y1="157.5" x2="667" y2="157.5"/>
<line x1="30" y1="152.5" x2="32" y2="152.5"/>
<line x1="665" y1="152.5" x2="667" y2="152.5"/>
<line x1="30" y1="147.5" x2="32" y2="147.5"/>
<line x1="665" y1="147.5" x2="667" y2="147.5"/>
<line x1="30" y1="142.5" x2="32" y2="142.5"/>
<line x1="665" y1="142.5" x2="667" y2="142.5"/>
<line x1="28" y1="137.5" x2="32" y2="137.5"/>
<line x1="665" y1="137.5" x2="669" y2="137.5"/>
<line x1="30" y1="132.5" x2="32" y2="132.5"/>
<line x1="665" y1="132.5" x2="667" y2="132.5"/>
<line x1="30" y1="128.5" x2="32" y2="128.5"/>
<line x1="665" y1="128.5" x2="667" y2="128.5"/>
<line x1="30" y1="123.5" x2="32" y2="123.5"/>
<line x1="665" y1="123.5" x2="667" y2="123.5"/>
<line x1="30" y1="119.5" x2="32" y2="119.5"/>
<line x1="665" y1="119.5" x2="667" y2="119.5"/>
<line x1="28" y1="114.5" x2="32" y2="114.5"/>
<line x1="665" y1="114.5" x2="669" y2="114.5"/>
<line x1="30" y1="110.5" x2="32" y2="110.5"/>
<line x1="665" y1="110.5" x2="667" y2="110.5"/>
<line x1="30" y1="106.5" x2="32" y2="106.5"/>
<line x1="665" y1="106.5" x2="667" y2="106.5"/>
<line x1="30" y1="101.5" x2="32" y2="101.5"/>
<line x1="665" y1="101.5" x2="667" y2="101.5"/>
<line x1="30" y1="97.5" x2="32" y2="97.5"/>
<line x1="665" y1="97.5" x2="667" y2="97.5"/>
<line x1="28" y1="93.5" x2="32" y2="93.5"/>
<line x1="665" y1="93.5" x2="669" y2="93.5"/>
<line x1="30" y1="89.5" x2="32" y2="89.5"/>
<line x1="665" y1="89.5" x2="667" y2="89.5"/>
<line x1="30" y1="85.5" x2="32" y2="85.5"/>
<line x1="665" y1="85.5" x2="667" y2="85.5"/>
<line x1="30" y1="80.5" x2="32" y2="80.5"/>
<line x1="665" y1="80.5" x2="667" y2="80.5"/>
<line x1="30" y1="76.5" x2="32" y2="76.5"/>
<line x1="665" y1="76.5" x2="667" y2="76.5"/>
<line x1="28" y1="72.5" x2="32" y2="72.5"/>
<line x1="665" y1="72.5" x2="669" y2="72.5"/>
<line x1="30" y1="68.5" x2="32" y2="68.5"/>
<line x1="665" y1="68.5" x2="667" y2="68.5"/>
<line x1="30" y1="64.5" x2="32" y2="64.5"/>
<line x1="665" y1="64.5" x2="667" y2="64.5"/>
<line x1="30" y1="61.5" x2="32" y2="61.5"/>
<line x1="665" y1="61.5" x2="667" y2="61.5"/>
<line x1="30" y1="57.5" x2="32" y2="57.5"/>
<line x1="665" y1="57.5" x2="667" y2="57.5"/>
<line x1="28" y1="53.5" x2="32" y2="53.5"/>
<line x1="665" y1="53.5" x2="669" y2="53.5"/>
<line x1="30" y1="49.5" x2="32" y2="49.5"/>
<line x1="665" y1="49.5" x2="667" y2="49.5"/>
<line x1="30" y1="46.5" x2="32" y2="46.5"/>
<line x1="665" y1="46.5" x2="667" y2="46.5"/>
<line x1="30" y1="42.5" x2="32" y2="42.5"/>
<line x1="665" y1="42.5" x2="667" y2="42.5"/>
<line x1="30" y1="39.5" x2="32" y2="39.5"/>
<line x1="665" y1="39.5" x2="667" y2="39.5"/>
<line x1="28" y1="35.5" x2="32" y2="35.5"/>
<line x1="665" y1="35.5" x2="669" y2="35.5"/>
<line x1="30" y1="32.5" x2="32" y2="32.5"/>
<line x1="665" y1="32.5" x2="667" y2="32.5"/>
<line x1="30" y1="28.5" x2="32" y2="28.5"/>
<line x1="665" y1="28.5" x2="667" y2="28.5"/>
<line x1="30" y1="25.5" x2="32" y2="25.5"/>
<line x1="665" y1="25.5" x2="667" y2="25.5"/>
<line x1="30" y1="21.5" x2="32" y2="21.5"/>
<line x1="665" y1="21.5" x2="667" y2="21.5"/>
<line x1="665" y1="18.5" x2="669" y2="18.5"/>
<line x1="61.5" y1="482" x2="61.5" y2="486"/>
<line x1="160.5" y1="482" x2="160.5" y2="486"/>
<line x1="259.5" y1="482" x2="259.5" y2="486"/>
<line x1="358.5" y1="482" x2="358.5" y2="486"/>
<line x1="457.5" y1="482" x2="457.5" y2="486"/>
<line x1="556.5" y1="482" x2="556.5" y2="486"/>
</g>
<rect x="34.5" y="19.5" width="165" height="17" fill="#ffffff" stroke="#000000" stroke-width="1" shape-rendering="crispEdges"/>
<line x1="39" y1="28.5" x2="51" y2="28.5" stroke="#0000ff" stroke-width="1" shape-rendering="crispEdges"/>
<g font-family="'Liberation Sans', sans-serif" fill="#000000" filter="url(#crisp)">
<text x="197.15" y="13" font-size="12px" font-weight="bold" textLength="41.59" lengthAdjust="spacingAndGlyphs">.MDAX</text>
<text x="243.54" y="13" font-size="12px" font-weight="bold" textLength="16.21" lengthAdjust="spacingAndGlyphs">(X)</text>
<text x="264.6" y="13" font-size="12px" font-weight="bold" textLength="3.34" lengthAdjust="spacingAndGlyphs">/</text>
<text x="273.29" y="13" font-size="12px" font-weight="bold" textLength="42.35" lengthAdjust="spacingAndGlyphs">XETRA</text>
<text x="319.44" y="13" font-size="12px" font-weight="bold" textLength="26.39" lengthAdjust="spacingAndGlyphs">vom</text>
<text x="350.92" y="13" font-size="12px" font-weight="bold" textLength="62.6" lengthAdjust="spacingAndGlyphs">18.09.2002</text>
<text x="418.37" y="13" font-size="12px" font-weight="bold" textLength="18.15" lengthAdjust="spacingAndGlyphs">bis</text>
<text x="439.7" y="13" font-size="12px" font-weight="bold" textLength="63.28" lengthAdjust="spacingAndGlyphs">20.11.2008</text>
<text x="54.19" y="32" font-size="10.67px" textLength="27.1" lengthAdjust="spacingAndGlyphs">Close</text>
<text x="84.46" y="32" font-size="10.67px" textLength="12.46" lengthAdjust="spacingAndGlyphs">(*)</text>
<text x="99.96" y="32" font-size="10.67px" textLength="38.71" lengthAdjust="spacingAndGlyphs">8669,99</text>
<text x="141.25" y="32" font-size="10.67px" textLength="20.26" lengthAdjust="spacingAndGlyphs">EUR</text>
<text x="164.04" y="32" font-size="10.67px" textLength="32.56" lengthAdjust="spacingAndGlyphs">(31.3.)</text>
<text x="-0.4" y="39.4" font-size="10.67px" textLength="24.1" lengthAdjust="spacingAndGlyphs">9500</text>
<text x="-0.4" y="76.4" font-size="10.67px" textLength="24.1" lengthAdjust="spacingAndGlyphs">8500</text>
<text x="-0.4" y="97.4" font-size="10.67px" textLength="24.1" lengthAdjust="spacingAndGlyphs">8000</text>
<text x="-0.4" y="118.4" font-size="10.67px" textLength="24.1" lengthAdjust="spacingAndGlyphs">7500</text>
<text x="-0.4" y="141.4" font-size="10.67px" textLength="24.1" lengthAdjust="spacingAndGlyphs">7000</text>
<text x="-0.4" y="166.4" font-size="10.67px" textLength="24.1" lengthAdjust="spacingAndGlyphs">6500</text>
<text x="-0.4" y="192.4" font-size="10.67px" textLength="24.1" lengthAdjust="spacingAndGlyphs">6000</text>
<text x="-0.4" y="221.4" font-size="10.67px" textLength="24.1" lengthAdjust="spacingAndGlyphs">5500</text>
<text x="-0.4" y="253.4" font-size="10.67px" textLength="24.1" lengthAdjust="spacingAndGlyphs">5000</text>
<text x="-0.4" y="288.4" font-size="10.67px" textLength="24.1" lengthAdjust="spacingAndGlyphs">4500</text>
<text x="-0.4" y="327.4" font-size="10.67px" textLength="24.1" lengthAdjust="spacingAndGlyphs">4000</text>
<text x="-0.4" y="372.4" font-size="10.67px" textLength="24.1" lengthAdjust="spacingAndGlyphs">3500</text>
<text x="-0.4" y="423.4" font-size="10.67px" textLength="24.1" lengthAdjust="spacingAndGlyphs">3000</text>
<text x="-0.4" y="484.4" font-size="10.67px" textLength="24.1" lengthAdjust="spacingAndGlyphs">2500</text>
<text x="671.5" y="22.4" font-size="10.67px" textLength="28" lengthAdjust="spacingAndGlyphs">234%</text>
<text x="671.5" y="57.4" font-size="10.67px" textLength="28" lengthAdjust="spacingAndGlyphs">201%</text>
<text x="671.5" y="76.4" font-size="10.67px" textLength="28" lengthAdjust="spacingAndGlyphs">184%</text>
<text x="671.5" y="97.4" font-size="10.67px" textLength="28" lengthAdjust="spacingAndGlyphs">167%</text>
<text x="671.5" y="118.4" font-size="10.67px" textLength="28" lengthAdjust="spacingAndGlyphs">151%</text>
<text x="671.5" y="141.4" font-size="10.67px" textLength="28" lengthAdjust="spacingAndGlyphs">134%</text>
<text x="671.5" y="166.4" font-size="10.67px" textLength="28" lengthAdjust="spacingAndGlyphs">117%</text>
<text x="671.5" y="192.4" font-size="10.67px" textLength="28" lengthAdjust="spacingAndGlyphs">101%</text>
<text x="671.5" y="221.4" font-size="10.67px" textLength="22" lengthAdjust="spacingAndGlyphs">84%</text>
<text x="671.5" y="253.4" font-size="10.67px" textLength="22" lengthAdjust="spacingAndGlyphs">67%</text>
<text x="671.5" y="288.4" font-size="10.67px" textLength="22" lengthAdjust="spacingAndGlyphs">50%</text>
<text x="671.5" y="327.4" font-size="10.67px" textLength="22" lengthAdjust="spacingAndGlyphs">34%</text>
<text x="671.5" y="372.4" font-size="10.67px" textLength="22" lengthAdjust="spacingAndGlyphs">17%</text>
<text x="671.5" y="423.4" font-size="10.67px" textLength="16" lengthAdjust="spacingAndGlyphs">0%</text>
<text x="671.5" y="484.4" font-size="10.67px" textLength="26" lengthAdjust="spacingAndGlyphs">-16%</text>
<text x="61" y="497" font-size="10.67px">2003</text>
<text x="160" y="497" font-size="10.67px">2004</text>
<text x="259" y="497" font-size="10.67px">2005</text>
<text x="358" y="497" font-size="10.67px">2006</text>
<text x="457" y="497" font-size="10.67px">2007</text>
<text x="556" y="497" font-size="10.67px">2008</text>
<text x="491.2" y="95" font-size="19.5px" fill="#000000" stroke="#000000" stroke-width="0.15" textLength="40.6" lengthAdjust="spacingAndGlyphs">8199</text>
<text x="492.0" y="132" font-size="19.5px" fill="#00ffff" stroke="#00ffff" stroke-width="0.15" textLength="38.6" lengthAdjust="spacingAndGlyphs">7311</text>
<text x="492.8" y="172" font-size="19.5px" fill="#0000ff" stroke="#0000ff" stroke-width="0.15" textLength="40.6" lengthAdjust="spacingAndGlyphs">6594</text>
<text x="497.0" y="231" font-size="19.5px" fill="#00ff00" stroke="#00ff00" stroke-width="0.15" textLength="40.6" lengthAdjust="spacingAndGlyphs">5488</text>
</g>
</svg>
</body></html>
